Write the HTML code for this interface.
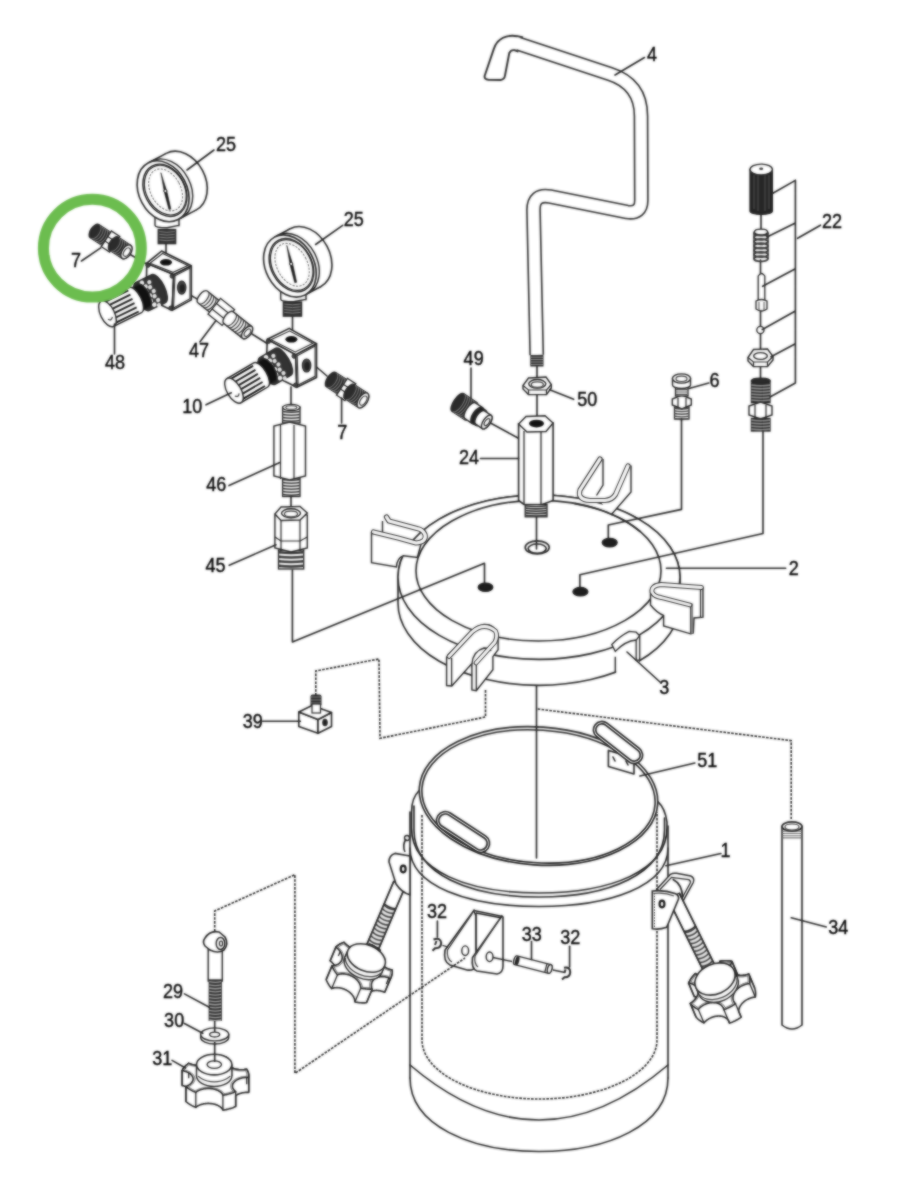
<!DOCTYPE html>
<html><head><meta charset="utf-8"><style>
html,body{margin:0;padding:0;background:#fff;width:916px;height:1201px;overflow:hidden}
svg{display:block}
#w{position:relative;width:916px;height:1201px}
#b{position:absolute;left:0;top:0;filter:blur(0.8px);opacity:0.72}
text{font-family:"Liberation Sans",sans-serif;font-size:19.4px;fill:#000;stroke:#000;stroke-width:0.4px;opacity:0.99}
.l{stroke:#222;stroke-width:1.6;fill:none;stroke-linejoin:round;stroke-linecap:round}
.f{stroke:#222;stroke-width:1.6;fill:#fff;stroke-linejoin:round}
.d{stroke:#1a1a1a;stroke-width:1.6;fill:none;stroke-dasharray:2.6 1.3}
.t{stroke:#222;stroke-width:1.3;fill:none}
.k{fill:#1e1e1e;stroke:#1e1e1e;stroke-width:1.2}
.g{fill:#666;stroke:#222;stroke-width:1.2}
</style></head><body><div id="w">
<svg width="916" height="1201" viewBox="0 0 916 1201">
<g id="D">
<rect width="916" height="1201" fill="#fff"/>

<g class="l">
<path d="M761 214 L761 233 M760.5 260 L760.5 273 M760.5 311 L760.5 326 M760.5 334 L760.5 350 M760.5 366 L760.5 380"/>
<path d="M537 366 L537 378 M537 394 L537 416"/>
<path d="M486.8 421 L518 438"/>
<path d="M130.6 254.7 L150 266"/>
<path d="M185 292 L201.8 301.6"/>
<path d="M166 243.5 L166 262"/>
<path d="M292.5 316 L292.5 339"/>
<path d="M313 364 L327 376"/>
<path d="M291 387 L291 407"/>
<path d="M291 479 L291 506"/>
<path d="M252 334 L268 344"/>
<path d="M536.5 516 L536.5 548"/>
</g>
<path d="M523 37.45 Q506 32.5 497.5 42 Q495 45 494 48.4 L484.7 75.7 Q484 79.5 488.5 79.8 L500.5 80 Q504.5 79.5 505 75.5 L509.3 53 Q511 49.5 515 50.3 L518.4 51.55 Z" fill="#fff"/>
<path d="M523 37.45 Q506 32.5 497.5 42 Q495 45 494 48.4 L484.7 75.7 Q484 79.5 488.5 79.8 L500.5 80 Q504.5 79.5 505 75.5 L509.3 53 Q511 49.5 515 50.3 L518.4 51.55" fill="none" stroke="#2a2a2a" stroke-width="1.9" stroke-linejoin="round"/>
<path d="M518.5 43.8 L610 74 Q641 84 641 116 L641.3 200 Q641.5 214 627 212 L550 196.5 Q533.5 193.5 533.5 210 L536.7 355" fill="none" stroke="#2a2a2a" stroke-width="14.8" stroke-linejoin="round" stroke-linecap="butt"/>
<path d="M515.6 42.9 L518.5 43.8 L610 74 Q641 84 641 116 L641.3 200 Q641.5 214 627 212 L550 196.5 Q533.5 193.5 533.5 210 L536.7 355" fill="none" stroke="#fff" stroke-width="11.6" stroke-linejoin="round" stroke-linecap="butt"/>
<rect x="530.3" y="355" width="13.2" height="11.5" fill="#2a2a2a"/>
<path d="M531 357.2H543M531 359.6H543M531 362H543M531 364.4H543" stroke="#999" stroke-width="1" fill="none"/>
<g>
<path class="f" d="M398 577.2 A141 82.2 0 0 1 680 577.2 L680 603.2 A141 82.2 0 0 1 398 603.2 Z"/>
<ellipse class="f" cx="539" cy="577.2" rx="141" ry="82.2"/>
<ellipse class="l" cx="538.5" cy="570.7" rx="122.5" ry="70.3"/>
<ellipse class="f" cx="537.2" cy="547.4" rx="12" ry="6.5"/>
<ellipse class="l" cx="537.2" cy="548.6" rx="9" ry="4.6"/>
<ellipse class="k" cx="609.7" cy="542.6" rx="7.5" ry="4.3"/>
<ellipse class="k" cx="580.4" cy="591.7" rx="7.5" ry="4.3"/>
<ellipse class="k" cx="485.5" cy="587.3" rx="7.3" ry="4.2"/>
</g>
<path d="M603 459 L603 485 L596 496 L611 515 L631 492 L631 465 L616 494 Z" fill="#fff" stroke="none"/>
<path d="M603 459 L603 485 L596.5 495.5 M631 465.5 L631 492 L611 515" fill="none" stroke="#222" stroke-width="1.4"/>
<path d="M600 459 L580 490 Q577 499.5 590 500.5 L605 500.5 Q612 500 615.5 494.5 L628 466" fill="none" stroke="#222" stroke-width="5.2" stroke-linejoin="round" stroke-linecap="round"/>
<path d="M600 459 L580 490 Q577 499.5 590 500.5 L605 500.5 Q612 500 615.5 494.5 L628 466" fill="none" stroke="#fff" stroke-width="3.2" stroke-linejoin="round" stroke-linecap="round"/>
<path class="l" d="M575 503.6 A122.5 70.3 0 0 1 640 531.4"/>
<path d="M371.5 533 L371.5 562.6 L396.4 567 Q397 558 403.4 555.7 L417.4 557.4 L421 544 L398 537.5 Z" fill="#fff" stroke="#222" stroke-width="1.4"/>
<path d="M382.5 521 V535" stroke="#222" stroke-width="1.4"/>
<path d="M373.5 532 L398 538 L416 543 Q427 542 425 534.5 Q423 529.5 417 528.5 L389 521 L386.5 517" fill="none" stroke="#222" stroke-width="5.2" stroke-linejoin="round" stroke-linecap="round"/>
<path d="M373.5 532 L398 538 L416 543 Q427 542 425 534.5 Q423 529.5 417 528.5 L389 521 L386.5 517" fill="none" stroke="#fff" stroke-width="3.2" stroke-linejoin="round" stroke-linecap="round"/>
<path d="M650.5 590 Q652 583 661 583.1 L701.1 586.5 L703 588 L703 617.2 L694 618 L693.3 633 L690.7 633.8 L663.6 625.9 L663.6 615.4 Q657 613 650.5 605 Z" fill="#fff" stroke="#222" stroke-width="1.4"/>
<path d="M690.7 603.5 L690.7 633.8" stroke="#222" stroke-width="1.3"/>
<rect x="690.8" y="603.5" width="2.3" height="30" fill="#888"/>
<path d="M700.5 588.5 V617" stroke="#222" stroke-width="1.2"/>
<path d="M701.5 587.5 L661 584.5 Q651 585.5 652 592 Q654 596.5 661 597.5 L690 605" fill="none" stroke="#222" stroke-width="4.8" stroke-linejoin="round" stroke-linecap="round"/>
<path d="M701.5 587.5 L661 584.5 Q651 585.5 652 592 Q654 596.5 661 597.5 L690 605" fill="none" stroke="#fff" stroke-width="2.8" stroke-linejoin="round" stroke-linecap="round"/>
<path d="M446.6 657.6 L446.6 685.5 L451.8 686 L471 664.5 L471.9 664 L471.9 690 L476.3 690.7 L492.9 669.8 L492.9 656.7 L498.1 649.7 L498.1 634 Q494 624 484 624.5 Q474 626 470 634 L448 655 Z" fill="#fff" stroke="#222" stroke-width="1.4"/>
<path d="M451.6 658 V686 M476.3 664 V690.7" stroke="#222" stroke-width="1.3"/>
<path d="M471.9 664 Q473 651 484 648 Q490 648 491 651" fill="none" stroke="#222" stroke-width="1.3"/>
<path d="M449 656.5 L472 632 Q484 621.5 495.5 631 Q498 636 495 642 L476 663" fill="none" stroke="#222" stroke-width="4.8" stroke-linejoin="round" stroke-linecap="round"/>
<path d="M449 656.5 L472 632 Q484 621.5 495.5 631 Q498 636 495 642 L476 663" fill="none" stroke="#fff" stroke-width="2.8" stroke-linejoin="round" stroke-linecap="round"/>
<rect x="616.2" y="655.5" width="22.8" height="20" fill="#fff"/>
<path d="M615.3 656.7 L615.3 672.4" stroke="#222" stroke-width="1.4"/>
<path d="M611.8 644.5 Q620 636 629.3 631.4 L636.2 632.2 L639.7 635.7 L639.7 660.2 L636.2 660.2 L636.2 640 Q625 641 615.3 651.4 Z" fill="#fff" stroke="#222" stroke-width="1.3"/>
<path d="M636.2 640 L639.7 635.7" stroke="#222" stroke-width="1.2"/>
<path d="M518.6 424 L518.6 500.5 L524 504.5 L541 505 L553.1 500.5 L553.1 423 Z" fill="#fff" stroke="#222" stroke-width="1.6"/>
<path d="M524 431 L524 504 M541 432 L541 504.5" stroke="#222" stroke-width="1.3"/>
<polygon points="518.6,424 526,416.5 545,415.8 553.1,423 546,431.5 527,432" fill="#fff" stroke="#222" stroke-width="1.4"/>
<ellipse cx="536.5" cy="423.6" rx="7.5" ry="3.9" fill="#111"/>
<rect x="525.2" y="504.5" width="21.8" height="12.3" fill="#fff" stroke="#222" stroke-width="1.3"/>
<path d="M525.2 505.7 Q536.1 507.2 547 505.7 M525.2 508.1 Q536.1 509.6 547 508.1 M525.2 510.5 Q536.1 512 547 510.5 M525.2 512.9 Q536.1 514.4 547 512.9 M525.2 515.3 Q536.1 516.8 547 515.3 " stroke="#333" stroke-width="1.6" fill="none"/>
<polygon points="523,385.5 528.5,378 546,377 551.3,384.5 551.3,388 546.5,394.6 528.5,394.6 523,389" fill="#fff" stroke="#222" stroke-width="1.4"/>
<path d="M523 385.5 L528.5 390 L546.5 390 L551.3 384.5 M528.5 390 V394.6 M546.5 390 V394.6" stroke="#222" stroke-width="1.2" fill="none"/>
<ellipse cx="537.3" cy="383.8" rx="8.6" ry="4.3" fill="#fff" stroke="#222" stroke-width="1.4"/>
<ellipse cx="537.3" cy="384.6" rx="6" ry="2.8" fill="none" stroke="#444" stroke-width="1.2"/>
<g transform="translate(473.5 413) rotate(34)">
<path d="M-19 -10.5 L-3 -10.5 A4 10.5 0 0 1 -3 10.5 L-19 10.5 A4 10.5 0 0 1 -19 -10.5 Z" fill="#2b2b2b" stroke="#222" stroke-width="1.4" stroke-linejoin="round"/>
<path d="M-17.8 -10.5 A4 10.5 0 0 1 -17.8 10.5 M-15.4 -10.5 A4 10.5 0 0 1 -15.4 10.5 M-13 -10.5 A4 10.5 0 0 1 -13 10.5 M-10.6 -10.5 A4 10.5 0 0 1 -10.6 10.5 M-8.2 -10.5 A4 10.5 0 0 1 -8.2 10.5 M-5.8 -10.5 A4 10.5 0 0 1 -5.8 10.5 M-3.4 -10.5 A4 10.5 0 0 1 -3.4 10.5 " stroke="#777" stroke-width="1" fill="none"/>
<path d="M-4 -9.5 L5 -9.5 A4 9.5 0 0 1 5 9.5 L-4 9.5 A4 9.5 0 0 1 -4 -9.5 Z" fill="#fff" stroke="#222" stroke-width="1.4" stroke-linejoin="round"/>
<path d="M4 -9 L9 -9 A4 9 0 0 1 9 9 L4 9 A4 9 0 0 1 4 -9 Z" fill="#222" stroke="#222" stroke-width="1.4" stroke-linejoin="round"/>
<path d="M8 -8 L16 -8 A3.6 8 0 0 1 16 8 L8 8 A3.6 8 0 0 1 8 -8 Z" fill="#fff" stroke="#222" stroke-width="1.4" stroke-linejoin="round"/>
<ellipse cx="16" cy="0" rx="3.6" ry="8" fill="#fff" stroke="#222" stroke-width="1.4"/>
<ellipse cx="16.3" cy="0" rx="2" ry="4" fill="#fff" stroke="#333" stroke-width="1.2"/>
</g>
<rect x="674.5" y="407" width="14.5" height="12" fill="#fff" stroke="#222" stroke-width="1.3"/>
<path d="M674.5 408.3 Q681.8 409.8 689 408.3 M674.5 410.9 Q681.8 412.4 689 410.9 M674.5 413.5 Q681.8 415 689 413.5 M674.5 416.1 Q681.8 417.6 689 416.1 M674.5 418.7 Q681.8 420.2 689 418.7 " stroke="#444" stroke-width="1.4" fill="none"/>
<path d="M672.3 399 L672.3 405 L681.8 409 L691.3 405 L691.3 399 L681.8 395 Z" fill="#fff" stroke="#222" stroke-width="1.4"/>
<path d="M678 398 L678 408 M686 398 L686 408 " stroke="#222" stroke-width="1.2" fill="none"/>
<rect x="675.5" y="385" width="12.5" height="11" fill="#fff" stroke="#222" stroke-width="1.3"/>
<path d="M676 387.2H687.5M676 389.6H687.5M676 392H687.5M676 394.4H687.5" stroke="#555" stroke-width="1.1" fill="none"/>
<path d="M672.5 378.5 L672.5 385 A9 3.5 0 0 0 690.5 385 L690.5 378.5 Z" fill="#fff" stroke="#222" stroke-width="1.4"/>
<ellipse cx="681.5" cy="378.5" rx="9" ry="4.6" fill="#fff" stroke="#222" stroke-width="1.4"/>
<ellipse cx="681.5" cy="378.8" rx="5.5" ry="2.7" fill="none" stroke="#444" stroke-width="1.2"/>
<path d="M750 169.5 L750 211 A11.2 3.5 0 0 0 772.4 211 L772.4 169.5 Z" fill="#262626" stroke="#1a1a1a" stroke-width="1.2"/>
<path d="M754 175 V209 M758 175 V211 M765 175 V211 M769 175 V209" stroke="#555" stroke-width="1"/>
<ellipse cx="761.2" cy="169.5" rx="11.2" ry="5.4" fill="#fff" stroke="#222" stroke-width="1.4"/>
<ellipse cx="761.2" cy="168.8" rx="2" ry="1.2" fill="#333"/>
<path d="M754 233 A7 2.6 0 0 0 768 233 A7 2.6 0 0 0 754 233 M754 237.3 A7 2.6 0 0 0 768 237.3 A7 2.6 0 0 0 754 237.3 M754 241.6 A7 2.6 0 0 0 768 241.6 A7 2.6 0 0 0 754 241.6 M754 245.9 A7 2.6 0 0 0 768 245.9 A7 2.6 0 0 0 754 245.9 M754 250.2 A7 2.6 0 0 0 768 250.2 A7 2.6 0 0 0 754 250.2 M754 254.5 A7 2.6 0 0 0 768 254.5 A7 2.6 0 0 0 754 254.5 M754 258.8 A7 2.6 0 0 0 768 258.8 A7 2.6 0 0 0 754 258.8 " fill="none" stroke="#333" stroke-width="1.9"/>
<path d="M754 233 V259 M768 233 V259" stroke="#333" stroke-width="1.4"/>
<ellipse cx="761" cy="232" rx="6.5" ry="2.8" fill="#fff" stroke="#222" stroke-width="1.3"/>
<path d="M758.2 300 L758.2 276 Q761.5 271 764.8 276 L764.8 300 Z" fill="#fff" stroke="#222" stroke-width="1.3"/>
<path d="M756 301 L756 309 Q761.5 313 767 309 L767 301 Q761.5 298 756 301 Z" fill="#fff" stroke="#222" stroke-width="1.3"/>
<path d="M759 302 V310 M764 302 V310" stroke="#444" stroke-width="1"/>
<circle cx="760.4" cy="330" r="3.6" fill="#fff" stroke="#222" stroke-width="1.3"/>
<polygon points="748,357.5 753.5,349.5 767.5,349 773,356.5 773,360 767.5,366.6 753.5,366.6 748,361" fill="#fff" stroke="#222" stroke-width="1.4"/>
<path d="M748 357.5 L753.5 362 L767.5 362 L773 356.5 M753.5 362 V366.6 M767.5 362 V366.6" stroke="#222" stroke-width="1.2" fill="none"/>
<ellipse cx="760.5" cy="356" rx="6.8" ry="3.4" fill="#fff" stroke="#222" stroke-width="1.4"/>
<rect x="751.4" y="380.5" width="18.6" height="22.1" fill="#2b2b2b" stroke="#222" stroke-width="1.3"/>
<path d="M751.4 382 Q760.7 383.5 770 382 M751.4 385 Q760.7 386.5 770 385 M751.4 388 Q760.7 389.5 770 388 M751.4 391 Q760.7 392.5 770 391 M751.4 394 Q760.7 395.5 770 394 M751.4 397 Q760.7 398.5 770 397 M751.4 400 Q760.7 401.5 770 400 " stroke="#999" stroke-width="1.4" fill="none"/>
<ellipse cx="760.7" cy="381" rx="9.3" ry="2.8" fill="#2b2b2b" stroke="#222" stroke-width="1.2"/>
<path d="M749 406 L749 415 L760.5 419 L772 415 L772 406 L760.5 402 Z" fill="#fff" stroke="#222" stroke-width="1.4"/>
<path d="M755 405 L755 418 M766 405 L766 418 " stroke="#222" stroke-width="1.2" fill="none"/>
<rect x="751.4" y="418.5" width="18.6" height="12.5" fill="#2b2b2b" stroke="#222" stroke-width="1.3"/>
<path d="M751.4 420 Q760.7 421.5 770 420 M751.4 423 Q760.7 424.5 770 423 M751.4 426 Q760.7 427.5 770 426 M751.4 429 Q760.7 430.5 770 429 " stroke="#999" stroke-width="1.4" fill="none"/>
<path d="M782 826.5 L782 1025 Q792 1033 802 1025 L802 826.5 Z" fill="#fff" stroke="#222" stroke-width="1.6"/>
<path d="M782.5 829.1H801.5M782.5 831.3H801.5M782.5 833.5H801.5M782.5 835.7H801.5M782.5 837.9H801.5" stroke="#777" stroke-width="1.1" fill="none"/>
<ellipse cx="792" cy="826.5" rx="10" ry="4.6" fill="#fff" stroke="#222" stroke-width="1.6"/>
<ellipse cx="792" cy="827" rx="7" ry="3" fill="none" stroke="#444" stroke-width="1.2"/>
<path d="M155 215 L155 225.3 Q155 227.8 167 227.8 L179 225.3 Q179 227.8 179 215 Z" fill="#fff" stroke="#222" stroke-width="1.4"/>
<rect x="158.2" y="229.5" width="17.5" height="14.2" fill="#333" stroke="#222" stroke-width="1.2"/>
<path d="M159.2 231.5 Q166.9 233.1 174.7 231.5 M159.2 234.3 Q166.9 235.9 174.7 234.3 M159.2 237.1 Q166.9 238.7 174.7 237.1 M159.2 239.9 Q166.9 241.5 174.7 239.9 " stroke="#888" stroke-width="1" fill="none"/>
<ellipse cx="181.3" cy="181.6" rx="24" ry="32" transform="rotate(-28 181.3 181.6)" fill="#fff" stroke="#222" stroke-width="1.6" />
<path d="M178.1 219.6 L196.3 209.9 L166.3 153.4 L148.1 163 Z" fill="#fff" stroke="none"/>
<path d="M178.1 219.6 L196.3 209.9 M148.1 163 L166.3 153.4" stroke="#222" stroke-width="1.6"/>
<ellipse cx="166.7" cy="189.4" rx="24" ry="32" transform="rotate(-28 166.7 189.4)" fill="#fff" stroke="#222" stroke-width="1.4" />
<ellipse cx="163.1" cy="191.3" rx="24" ry="32" transform="rotate(-28 163.1 191.3)" fill="#fff" stroke="#222" stroke-width="1.6" />
<ellipse cx="164.9" cy="190.3" rx="20.2" ry="27.5" transform="rotate(-28 164.9 190.3)" fill="#fff" stroke="#222" stroke-width="1.4" />
<ellipse cx="165.3" cy="190.1" rx="19.2" ry="26.2" transform="rotate(-28 165.3 190.1)" fill="none" stroke="#222" stroke-width="1.2" />
<ellipse cx="165.6" cy="189.9" rx="15.1" ry="22.4" transform="rotate(-28 165.6 189.9)" fill="none" stroke="#222" stroke-width="1.1" stroke-dasharray="2.2 1.3" style="stroke:#666"/>
<path d="M160.9 172.7 L164.6 193.1 L169 209.5 L170.8 209.1 L167.1 192.5 Z" fill="#111" stroke="#111" stroke-width="0.6" stroke-linejoin="round"/>
<circle cx="165.4" cy="191" r="1.6" fill="#fff" stroke="#111" stroke-width="1"/>
<path d="M280.7 288 L280.7 299.3 Q280.7 301.8 293.4 301.8 L306 299.3 Q306 301.8 306 288 Z" fill="#fff" stroke="#222" stroke-width="1.4"/>
<rect x="283.3" y="302" width="18.3" height="14.2" fill="#333" stroke="#222" stroke-width="1.2"/>
<path d="M284.3 304 Q292.5 305.6 300.6 304 M284.3 306.8 Q292.5 308.4 300.6 306.8 M284.3 309.6 Q292.5 311.2 300.6 309.6 M284.3 312.4 Q292.5 314 300.6 312.4 " stroke="#888" stroke-width="1" fill="none"/>
<ellipse cx="305.6" cy="257.6" rx="24.2" ry="32.7" transform="rotate(-28 305.6 257.6)" fill="#fff" stroke="#222" stroke-width="1.6" />
<path d="M305.2 294.9 L320.9 286.5 L290.2 228.8 L274.5 237.1 Z" fill="#fff" stroke="none"/>
<path d="M305.2 294.9 L320.9 286.5 M274.5 237.1 L290.2 228.8" stroke="#222" stroke-width="1.6"/>
<ellipse cx="293" cy="264.3" rx="24.2" ry="32.7" transform="rotate(-28 293 264.3)" fill="#fff" stroke="#222" stroke-width="1.4" />
<ellipse cx="289.9" cy="266" rx="24.2" ry="32.7" transform="rotate(-28 289.9 266)" fill="#fff" stroke="#222" stroke-width="1.6" />
<ellipse cx="291.4" cy="265.2" rx="20.3" ry="28.1" transform="rotate(-28 291.4 265.2)" fill="#fff" stroke="#222" stroke-width="1.4" />
<ellipse cx="291.7" cy="265" rx="19.4" ry="26.8" transform="rotate(-28 291.7 265)" fill="none" stroke="#222" stroke-width="1.2" />
<ellipse cx="292.1" cy="264.8" rx="15.2" ry="22.9" transform="rotate(-28 292.1 264.8)" fill="none" stroke="#222" stroke-width="1.1" stroke-dasharray="2.2 1.3" style="stroke:#666"/>
<path d="M286.8 245.4 L290.4 266.1 L294.8 282.7 L296.6 282.3 L293 265.5 Z" fill="#111" stroke="#111" stroke-width="0.6" stroke-linejoin="round"/>
<circle cx="291.2" cy="263.9" r="1.6" fill="#fff" stroke="#111" stroke-width="1"/>
<polygon class="f" points="146.8,263.2 173.8,274.5 172.1,310.3 146,298" />
<polygon class="f" points="173.8,274.5 191.3,265.8 191.3,299.9 172.1,310.3" />
<polygon class="f" points="146.8,263.2 161.6,251 191.3,265.8 173.8,274.5" />
<ellipse cx="166" cy="262.3" rx="6" ry="3.3" fill="#111"/>
<ellipse cx="181.7" cy="287.6" rx="4.2" ry="6.5" fill="#444" stroke="#222" stroke-width="1.2"/>
<ellipse cx="182.2" cy="288.1" rx="2.5" ry="3.9" fill="#222"/>
<polygon points="175,275.8 190,268 190,298.7 173.5,308" fill="none" stroke="#333" stroke-width="1.1"/>
<polygon points="150,263.3 162.6,253.5 187.9,265.4 173,272.3" fill="none" stroke="#333" stroke-width="1.1"/>
<circle cx="148" cy="265.2" r="2.1" fill="#444" stroke="#222" stroke-width="1"/>
<circle cx="172.2" cy="276.1" r="2.1" fill="#444" stroke="#222" stroke-width="1"/>
<circle cx="170.9" cy="308.1" r="2.1" fill="#444" stroke="#222" stroke-width="1"/>
<g transform="translate(107.5 313.8) rotate(-26.2)">
<path d="M39 -15.5 L57 -15.5 A6 15.5 0 0 1 57 15.5 L39 15.5 A6 15.5 0 0 1 39 -15.5 Z" fill="#333" stroke="#222" stroke-width="1.4" stroke-linejoin="round"/>
<circle cx="44.5" cy="-12.5" r="2.3" fill="#f4f4f4" stroke="none"/>
<circle cx="51.5" cy="-10" r="2.1" fill="#e8e8e8" stroke="none"/>
<circle cx="46" cy="-7.5" r="2.3" fill="#f4f4f4" stroke="none"/>
<circle cx="50" cy="-5" r="2.1" fill="#e8e8e8" stroke="none"/>
<circle cx="44.5" cy="-2.5" r="2.3" fill="#f4f4f4" stroke="none"/>
<circle cx="51.5" cy="0" r="2.1" fill="#e8e8e8" stroke="none"/>
<circle cx="46" cy="2.5" r="2.3" fill="#f4f4f4" stroke="none"/>
<circle cx="50" cy="5" r="2.1" fill="#e8e8e8" stroke="none"/>
<circle cx="44.5" cy="7.5" r="2.3" fill="#f4f4f4" stroke="none"/>
<circle cx="51.5" cy="10" r="2.1" fill="#e8e8e8" stroke="none"/>
<circle cx="46" cy="12.5" r="2.3" fill="#f4f4f4" stroke="none"/>
<circle cx="50" cy="15" r="2.1" fill="#e8e8e8" stroke="none"/>
<path d="M29 -12.5 L41 -12.5 A5 12.5 0 0 1 41 12.5 L29 12.5 A5 12.5 0 0 1 29 -12.5 Z" fill="#111" stroke="#222" stroke-width="1.4" stroke-linejoin="round"/>
<path d="M0 -14 L31 -14 A6 14 0 0 1 31 14 L0 14 A6 14 0 0 1 0 -14 Z" fill="#fff" stroke="#222" stroke-width="1.4" stroke-linejoin="round"/>
<path d="M3 -11.7H29M3 -7H29M3 -2.3H29M3 2.3H29M3 7H29M3 11.7H29" stroke="#111" stroke-width="1.9" fill="none"/>
<ellipse cx="0" cy="0" rx="7" ry="14" fill="#fff" stroke="#222" stroke-width="1.4"/>
<path d="M-2 5 q2.5 3.5 5 0" stroke="#333" stroke-width="1.2" fill="none"/>
</g>
<polygon class="f" points="267.3,339.3 295.7,354.6 296.8,387.3 266,372" />
<polygon class="f" points="295.7,354.6 316.5,343.7 316.5,377.5 296.8,387.3" />
<polygon class="f" points="267.3,339.3 289.2,328.4 316.5,343.7 295.7,354.6" />
<ellipse cx="291.4" cy="339.3" rx="6" ry="3.3" fill="#111"/>
<ellipse cx="306.6" cy="365.5" rx="4.2" ry="6.5" fill="#444" stroke="#222" stroke-width="1.2"/>
<ellipse cx="307.1" cy="366" rx="2.5" ry="3.9" fill="#222"/>
<polygon points="297.2,355.7 315.1,345.9 315.1,376.3 298.1,385.1" fill="none" stroke="#333" stroke-width="1.1"/>
<polygon points="271,339.7 289.6,331 312.9,343.3 295.2,352" fill="none" stroke="#333" stroke-width="1.1"/>
<circle cx="268.5" cy="341.3" r="2.1" fill="#444" stroke="#222" stroke-width="1"/>
<circle cx="294.1" cy="356.2" r="2.1" fill="#444" stroke="#222" stroke-width="1"/>
<circle cx="295.6" cy="385.1" r="2.1" fill="#444" stroke="#222" stroke-width="1"/>
<g transform="translate(234 390.6) rotate(-30.4)">
<path d="M39 -15.5 L57 -15.5 A6 15.5 0 0 1 57 15.5 L39 15.5 A6 15.5 0 0 1 39 -15.5 Z" fill="#333" stroke="#222" stroke-width="1.4" stroke-linejoin="round"/>
<circle cx="44.5" cy="-12.5" r="2.3" fill="#f4f4f4" stroke="none"/>
<circle cx="51.5" cy="-10" r="2.1" fill="#e8e8e8" stroke="none"/>
<circle cx="46" cy="-7.5" r="2.3" fill="#f4f4f4" stroke="none"/>
<circle cx="50" cy="-5" r="2.1" fill="#e8e8e8" stroke="none"/>
<circle cx="44.5" cy="-2.5" r="2.3" fill="#f4f4f4" stroke="none"/>
<circle cx="51.5" cy="0" r="2.1" fill="#e8e8e8" stroke="none"/>
<circle cx="46" cy="2.5" r="2.3" fill="#f4f4f4" stroke="none"/>
<circle cx="50" cy="5" r="2.1" fill="#e8e8e8" stroke="none"/>
<circle cx="44.5" cy="7.5" r="2.3" fill="#f4f4f4" stroke="none"/>
<circle cx="51.5" cy="10" r="2.1" fill="#e8e8e8" stroke="none"/>
<circle cx="46" cy="12.5" r="2.3" fill="#f4f4f4" stroke="none"/>
<circle cx="50" cy="15" r="2.1" fill="#e8e8e8" stroke="none"/>
<path d="M29 -12.5 L41 -12.5 A5 12.5 0 0 1 41 12.5 L29 12.5 A5 12.5 0 0 1 29 -12.5 Z" fill="#111" stroke="#222" stroke-width="1.4" stroke-linejoin="round"/>
<path d="M0 -14 L31 -14 A6 14 0 0 1 31 14 L0 14 A6 14 0 0 1 0 -14 Z" fill="#fff" stroke="#222" stroke-width="1.4" stroke-linejoin="round"/>
<path d="M3 -11.7H29M3 -7H29M3 -2.3H29M3 2.3H29M3 7H29M3 11.7H29" stroke="#111" stroke-width="1.9" fill="none"/>
<ellipse cx="0" cy="0" rx="7" ry="14" fill="#fff" stroke="#222" stroke-width="1.4"/>
<path d="M-2 5 q2.5 3.5 5 0" stroke="#333" stroke-width="1.2" fill="none"/>
</g>
<g transform="translate(110.5 241.5) rotate(33)">
<path d="M-19 -7.8 L-4 -7.8 A4 7.8 0 0 1 -4 7.8 L-19 7.8 A4 7.8 0 0 1 -19 -7.8 Z" fill="#2b2b2b" stroke="#222" stroke-width="1.4" stroke-linejoin="round"/>
<path d="M-17.7 -7.8 A4 7.8 0 0 1 -17.7 7.8 M-15.1 -7.8 A4 7.8 0 0 1 -15.1 7.8 M-12.5 -7.8 A4 7.8 0 0 1 -12.5 7.8 M-9.9 -7.8 A4 7.8 0 0 1 -9.9 7.8 M-7.3 -7.8 A4 7.8 0 0 1 -7.3 7.8 M-4.7 -7.8 A4 7.8 0 0 1 -4.7 7.8 " stroke="#777" stroke-width="1" fill="none"/>
<path d="M-5 -9.3 L5 -9.3 L5 9.3 L-5 9.3 Z" fill="#fff" stroke="#222" stroke-width="1.3"/>
<path d="M-5 -2.6 H5 M-5 2.6 H5" stroke="#222" stroke-width="1.2"/>
<path d="M4 -7.8 L19 -7.8 A4 7.8 0 0 1 19 7.8 L4 7.8 A4 7.8 0 0 1 4 -7.8 Z" fill="#2b2b2b" stroke="#222" stroke-width="1.4" stroke-linejoin="round"/>
<path d="M5.3 -7.8 A4 7.8 0 0 1 5.3 7.8 M7.9 -7.8 A4 7.8 0 0 1 7.9 7.8 M10.5 -7.8 A4 7.8 0 0 1 10.5 7.8 M13.1 -7.8 A4 7.8 0 0 1 13.1 7.8 M15.7 -7.8 A4 7.8 0 0 1 15.7 7.8 M18.3 -7.8 A4 7.8 0 0 1 18.3 7.8 " stroke="#777" stroke-width="1" fill="none"/>
<ellipse cx="19" cy="0" rx="4.5" ry="7.8" fill="#fff" stroke="#222" stroke-width="1.4"/>
<ellipse cx="19.5" cy="0" rx="2.8" ry="4.7" fill="#fff" stroke="#444" stroke-width="1.2"/>
</g>
<g transform="translate(347 390) rotate(33)">
<path d="M-19 -8.5 L-5 -8.5 A4 8.5 0 0 1 -5 8.5 L-19 8.5 A4 8.5 0 0 1 -19 -8.5 Z" fill="#2b2b2b" stroke="#222" stroke-width="1.4" stroke-linejoin="round"/>
<path d="M-17.7 -8.5 A4 8.5 0 0 1 -17.7 8.5 M-15.1 -8.5 A4 8.5 0 0 1 -15.1 8.5 M-12.5 -8.5 A4 8.5 0 0 1 -12.5 8.5 M-9.9 -8.5 A4 8.5 0 0 1 -9.9 8.5 M-7.3 -8.5 A4 8.5 0 0 1 -7.3 8.5 " stroke="#777" stroke-width="1" fill="none"/>
<path d="M-6 -10 L4 -10 L4 10 L-6 10 Z" fill="#fff" stroke="#222" stroke-width="1.3"/>
<path d="M-6 -2.8 H4 M-6 2.8 H4" stroke="#222" stroke-width="1.2"/>
<path d="M3 -8.5 L19 -8.5 A4 8.5 0 0 1 19 8.5 L3 8.5 A4 8.5 0 0 1 3 -8.5 Z" fill="#2b2b2b" stroke="#222" stroke-width="1.4" stroke-linejoin="round"/>
<path d="M4.3 -8.5 A4 8.5 0 0 1 4.3 8.5 M6.9 -8.5 A4 8.5 0 0 1 6.9 8.5 M9.5 -8.5 A4 8.5 0 0 1 9.5 8.5 M12.1 -8.5 A4 8.5 0 0 1 12.1 8.5 M14.7 -8.5 A4 8.5 0 0 1 14.7 8.5 M17.3 -8.5 A4 8.5 0 0 1 17.3 8.5 " stroke="#777" stroke-width="1" fill="none"/>
<ellipse cx="19" cy="0" rx="4.5" ry="8.5" fill="#fff" stroke="#222" stroke-width="1.4"/>
<ellipse cx="19.5" cy="0" rx="2.8" ry="5.1" fill="#fff" stroke="#444" stroke-width="1.2"/>
</g>
<g transform="translate(226 315.6) rotate(38.5)">
<path d="M-30 -7.5 L-14 -7.5 A3.5 7.5 0 0 1 -14 7.5 L-30 7.5 A3.5 7.5 0 0 1 -30 -7.5 Z" fill="#fff" stroke="#222" stroke-width="1.4" stroke-linejoin="round"/>
<path d="M-28.5 -7.5 A3.5 7.5 0 0 1 -28.5 7.5 M-25.5 -7.5 A3.5 7.5 0 0 1 -25.5 7.5 M-22.5 -7.5 A3.5 7.5 0 0 1 -22.5 7.5 M-19.5 -7.5 A3.5 7.5 0 0 1 -19.5 7.5 M-16.5 -7.5 A3.5 7.5 0 0 1 -16.5 7.5 " stroke="#333" stroke-width="1.2" fill="none"/>
<path d="M-15 -10 L3 -10 L3 10 L-15 10 Z" fill="#fff" stroke="#222" stroke-width="1.3"/>
<path d="M-15 -3.5 H3 M-15 3.5 H3" stroke="#222" stroke-width="1.2"/>
<path d="M3 -7.5 L27 -7.5 A3.5 7.5 0 0 1 27 7.5 L3 7.5 A3.5 7.5 0 0 1 3 -7.5 Z" fill="#fff" stroke="#222" stroke-width="1.4" stroke-linejoin="round"/>
<path d="M6.5 -7.5 A3.5 7.5 0 0 1 6.5 7.5 M9.5 -7.5 A3.5 7.5 0 0 1 9.5 7.5 M12.5 -7.5 A3.5 7.5 0 0 1 12.5 7.5 M15.5 -7.5 A3.5 7.5 0 0 1 15.5 7.5 M18.5 -7.5 A3.5 7.5 0 0 1 18.5 7.5 M21.5 -7.5 A3.5 7.5 0 0 1 21.5 7.5 M24.5 -7.5 A3.5 7.5 0 0 1 24.5 7.5 " stroke="#333" stroke-width="1.2" fill="none"/>
<ellipse cx="27" cy="0" rx="4" ry="7.5" fill="#fff" stroke="#222" stroke-width="1.4"/>
<ellipse cx="27.5" cy="0" rx="2.4" ry="4.3" fill="#fff" stroke="#444" stroke-width="1.2"/>
</g>
<rect x="282.6" y="407" width="17.4" height="16" fill="#fff" stroke="#222" stroke-width="1.3"/>
<path d="M282.6 408.5 Q291.3 410 300 408.5 M282.6 411.5 Q291.3 413 300 411.5 M282.6 414.5 Q291.3 416 300 414.5 M282.6 417.5 Q291.3 419 300 417.5 M282.6 420.5 Q291.3 422 300 420.5 " stroke="#333" stroke-width="1.7" fill="none"/>
<ellipse cx="291.3" cy="407.5" rx="8.7" ry="3.2" fill="#fff" stroke="#222" stroke-width="1.3"/>
<ellipse cx="291.3" cy="407.5" rx="5.5" ry="1.8" fill="none" stroke="#444" stroke-width="1.1"/>
<rect x="282.6" y="478" width="17.4" height="18.5" fill="#fff" stroke="#222" stroke-width="1.3"/>
<path d="M282.6 479.5 Q291.3 481 300 479.5 M282.6 482.5 Q291.3 484 300 482.5 M282.6 485.5 Q291.3 487 300 485.5 M282.6 488.5 Q291.3 490 300 488.5 M282.6 491.5 Q291.3 493 300 491.5 M282.6 494.5 Q291.3 496 300 494.5 " stroke="#333" stroke-width="1.7" fill="none"/>
<path d="M273.9 426 L273.9 476 L289.7 480 L305.5 476 L305.5 426 L289.7 422 Z" fill="#fff" stroke="#222" stroke-width="1.4"/>
<path d="M280.5 425 L280.5 479 M294 425 L294 479 " stroke="#222" stroke-width="1.2" fill="none"/>
<rect x="278.5" y="550" width="25.2" height="19" fill="#fff" stroke="#222" stroke-width="1.3"/>
<path d="M278.5 552.2 Q291.1 553.8 303.7 552.2 M278.5 556.8 Q291.1 558.2 303.7 556.8 M278.5 561.2 Q291.1 562.8 303.7 561.2 M278.5 565.8 Q291.1 567.2 303.7 565.8 " stroke="#333" stroke-width="2.6" fill="none"/>
<path d="M274.9 515 L274.9 548 L291.1 552 L307.3 548 L307.3 515 L291.1 511 Z" fill="#fff" stroke="#222" stroke-width="1.4"/>
<path d="M281 514 L281 551 M300 514 L300 551 " stroke="#222" stroke-width="1.2" fill="none"/>
<path d="M274.9 537 L281 541 L300 541 L307.3 537" stroke="#222" stroke-width="1.2" fill="none"/>
<polygon points="274.9,514 281,507 300,506.4 307.3,513 300,520 281,520.5" fill="#fff" stroke="#222" stroke-width="1.4"/>
<ellipse cx="291" cy="513.3" rx="9.5" ry="4.5" fill="#fff" stroke="#222" stroke-width="1.4"/>
<ellipse cx="291" cy="514" rx="6.5" ry="2.8" fill="none" stroke="#444" stroke-width="1.2"/>
<rect x="310.5" y="694.5" width="11" height="12" rx="2" fill="#2a2a2a"/>
<path d="M311 697 H321 M311 700 H321 M311 703 H321" stroke="#888" stroke-width="1"/>
<polygon class="f" points="298.8,712 318,719.5 318,733.3 298.8,726.5" />
<polygon class="f" points="318,719.5 331.5,712.5 331.5,726.5 318,733.3" />
<polygon class="f" points="298.8,712 312,705.5 331.5,712.5 318,719.5" />
<rect x="312" y="704" width="8.5" height="9" fill="#fff" stroke="#222" stroke-width="1.2"/>
<ellipse cx="325" cy="722.5" rx="2.8" ry="3.8" fill="#222"/>
<g>
<path fill="#fff" d="M410 812 L418 795 A119 68 0 0 1 656 795 L668 828 L668 1078 C668 1125 608 1151.5 539 1151.5 C470 1151.5 410 1125 410 1078 Z"/>
<path class="l" d="M410 812 L410 1078 M668 826 L668 1078"/>
<path class="l" d="M410 1078 C410 1125 470 1151.5 539 1151.5 C608 1151.5 668 1125 668 1078"/>
<path class="l" d="M410 1065 Q539 1175 668 1065"/>
<path class="d" d="M422 815 L422 1040 A117.5 59 0 0 0 657 1040 L657 812"/>
<ellipse class="l" cx="538.5" cy="796" rx="119.5" ry="69" transform="rotate(4 538.5 796)" />
<ellipse class="l" cx="538.5" cy="796.4" rx="116.8" ry="66.3" transform="rotate(4 538.5 796.4)" />
<path class="l" d="M419.2 790.5 Q411.5 798 411.5 812 L411.5 828 C411.5 871 468 893 539 893 C610 893 667 871 667 828 L667 822 Q665 808 657.8 801.6"/>
<path class="l" d="M414 806 L414 830 C414 874 469 897 539 897 C609 897 664.5 874 664.5 830 L664.5 818"/>
<path class="l" d="M410 848 C410 886 468 906.5 539 906.5 C610 906.5 668 886 668 848"/>
<g transform="translate(463 832) rotate(33)"><rect class="f" x="-30" y="-9" width="60" height="18" rx="9"/><rect class="l" x="-27.5" y="-6.5" width="55" height="13" rx="6.5"/></g>
<path class="f" d="M608.4 750.4 L634 758 L634 774 L608.4 766.5 Z"/>
<g transform="translate(618 742.5) rotate(38)"><rect class="f" x="-29" y="-8.5" width="58" height="17" rx="8.5"/><rect class="l" x="-26.5" y="-6" width="53" height="12" rx="6"/></g>
<path class="l" d="M613 757 l2 4 M626 761 l2 4"/>
</g>
<path d="M185.6 1065.9 L185.2 1066.3 L184.8 1066.7 L184.4 1067.1 L184 1067.6 L183.7 1068 L183.3 1068.5 L183 1068.9 L182.7 1069.4 L182.5 1069.8 L182.2 1070.3 L182.1 1070.6 L182.1 1085.6 L182.5 1085.7 L182.9 1085.7 L183.4 1085.8 L183.9 1085.9 L184.3 1086.1 L184.7 1086.2 L185.2 1086.3 L185.6 1086.5 L185.9 1086.5 L185.9 1101.4 L186 1101.6 L186.5 1102 L187 1102.4 L187.4 1102.7 L187.9 1103.1 L188.5 1103.5 L189 1103.9 L189.6 1104.2 L190.1 1104.6 L190.7 1104.9 L191.3 1105.3 L191.9 1105.6 L192.5 1105.9 L193.2 1106.2 L193.8 1106.5 L194.5 1106.8 L195.2 1107.1 L195.8 1107.4 L195.9 1107.3 L196.1 1107.1 L196.4 1106.8 L196.7 1106.6 L197 1106.4 L197.4 1106.2 L197.7 1106 L198.1 1105.8 L198.4 1105.6 L198.8 1105.4 L199.2 1105.2 L199.6 1105.1 L200 1104.9 L200.4 1104.7 L200.8 1104.6 L201.3 1104.5 L201.7 1104.3 L202.1 1104.2 L202.6 1104.1 L203 1104 L203.5 1103.9 L204 1103.8 L204.4 1103.7 L204.9 1103.7 L205.4 1103.6 L205.9 1103.6 L206.4 1103.5 L206.9 1103.5 L207.3 1103.5 L207.8 1103.4 L208.3 1103.4 L208.8 1103.4 L209.3 1103.5 L209.8 1103.5 L210.3 1103.5 L210.8 1103.6 L211.3 1103.6 L211.7 1103.7 L212.2 1103.7 L212.7 1103.8 L213.1 1103.9 L213.6 1104 L214.1 1104.1 L214.5 1104.2 L215 1104.3 L215.4 1104.5 L215.8 1104.6 L216.2 1104.7 L216.7 1104.9 L217.1 1105.1 L217.5 1105.2 L217.8 1105.4 L218.2 1105.6 L218.6 1105.8 L218.9 1106 L219.3 1106.2 L219.6 1106.4 L219.9 1106.6 L220.2 1106.8 L220.5 1107.1 L220.8 1107.3 L221.1 1107.5 L221.3 1107.8 L221.6 1108 L221.8 1108.3 L222 1108.5 L222.2 1108.8 L222.4 1109.1 L222.5 1109.3 L222.7 1109.6 L222.8 1109.9 L222.9 1110.1 L223 1110.1 L223.8 1110 L224.6 1109.9 L225.4 1109.7 L226.2 1109.6 L227 1109.4 L227.8 1109.2 L228.5 1109 L229.3 1108.8 L230 1108.6 L230.8 1108.4 L231.5 1108.2 L232.2 1107.9 L232.9 1107.7 L233.6 1107.4 L234.3 1107.1 L235 1106.8 L235.7 1106.5 L235.7 1106.5 L235.7 1095.6 L235.8 1095.6 L236.1 1095.3 L236.5 1095.1 L236.8 1094.9 L237.2 1094.7 L237.5 1094.5 L237.9 1094.3 L238.3 1094.2 L238.7 1094 L239.1 1093.8 L239.5 1093.7 L239.9 1093.5 L240.3 1093.4 L240.8 1093.3 L241.2 1093.2 L241.7 1093 L242.1 1092.9 L242.6 1092.8 L243.1 1092.7 L243.5 1092.7 L244 1092.6 L244.5 1092.5 L245 1092.5 L245.5 1092.4 L245.9 1092.4 L246.4 1092.4 L246.9 1092.4 L247.4 1092.4 L247.9 1092.4 L248.4 1092.4 L248.7 1092.4 L248.7 1092 L248.7 1091.5 L248.8 1091 L248.8 1076 L248.7 1075.5 L248.7 1075 L248.7 1074.5 L248.6 1074.1 L248.5 1073.6 L248.4 1073.1 L248.2 1072.6 L248.1 1072.2 L247.9 1071.7 L247.7 1071.2 L247.5 1070.7 L247.3 1070.3 L247 1069.8 L246.8 1069.4 L246.7 1069.2 L246.6 1069.2 L246.2 1069.3 L245.7 1069.4 L245.2 1069.5 L244.8 1069.6 L244.3 1069.6 L243.8 1069.7 L243.3 1069.7 L242.8 1069.8 L242.3 1069.8 L241.9 1069.8 L241.4 1069.8 L240.9 1069.8 L240.4 1069.8 L239.9 1069.8 L239.4 1069.7 L238.9 1069.7 L238.4 1069.6 L238 1069.6 L237.5 1069.5 L237 1069.4 L236.5 1069.3 L236.1 1069.2 L235.6 1069.1 L235.2 1069 L234.7 1068.9 L234.3 1068.8 L233.9 1068.6 L233.4 1068.5 L233 1068.3 L232.6 1068.2 L232.2 1068 L231.8 1067.8 L231.5 1067.6 L231.1 1067.4 L230.8 1067.2 L230.4 1067 L230.1 1066.8 L229.8 1066.6 L229.5 1066.4 L229.2 1066.2 L228.9 1065.9 L228.6 1065.7 L228.4 1065.4 L228.1 1065.2 L227.9 1064.9 L227.7 1064.7 L227.5 1064.5 L227.5 1057.7 L227 1057.6 L226.2 1057.4 L225.4 1057.3 L224.6 1057.1 L223.8 1057 L223 1056.9 L222.2 1056.8 L221.4 1056.7 L220.6 1056.6 L219.7 1056.5 L218.9 1056.4 L218.1 1056.4 L217.3 1056.3 L216.4 1056.3 L215.6 1056.3 L214.8 1056.3 L213.9 1056.3 L213.5 1056.3 L213.5 1057.1 L213.5 1057.3 L213.5 1057.6 L213.4 1057.8 L213.3 1058.1 L213.2 1058.4 L213.1 1058.7 L213 1059 L212.9 1059.2 L212.7 1059.5 L212.6 1059.8 L212.4 1060 L212.2 1060.3 L212 1060.6 L211.8 1060.8 L211.5 1061.1 L211.3 1061.3 L211 1061.5 L210.7 1061.8 L210.4 1062 L210.1 1062.2 L209.8 1062.4 L209.5 1062.7 L209.1 1062.9 L208.8 1063.1 L208.4 1063.3 L208 1063.4 L207.7 1063.6 L207.3 1063.8 L206.9 1063.9 L206.5 1064.1 L206 1064.2 L205.6 1064.4 L205.2 1064.5 L204.7 1064.6 L204.3 1064.7 L203.8 1064.9 L203.4 1065 L202.9 1065 L202.4 1065.1 L201.9 1065.2 L201.5 1065.2 L201 1065.3 L200.5 1065.3 L200 1065.4 L199.5 1065.4 L199 1065.4 L198.5 1065.4 L198 1065.4 L197.5 1065.4 L197.1 1065.4 L196.6 1065.3 L196.1 1065.3 L195.6 1065.2 L195.1 1065.2 L194.6 1065.1 L194.2 1065 L193.7 1065 L193.2 1064.9 L192.8 1064.7 L192.3 1064.6 L191.9 1064.5 L191.5 1064.4 L191 1064.2 L190.6 1064.1 L190.2 1063.9 L189.8 1063.8 L189.4 1063.6 L189 1063.4 L188.7 1063.3 L188.5 1063.5 L187.9 1063.9 L187.4 1064.3 L187 1064.6 L186.5 1065 L186 1065.4 L185.6 1065.9Z" fill="#fff" stroke="#222" stroke-width="1.6" stroke-linejoin="round"/>
<path d="M222.9 1095.1 L222.9 1110.1 M195.8 1092.4 L195.8 1107.4 M185.9 1086.4 L185.9 1101.4 M182.1 1070.6 L182.1 1085.6 M188.7 1063.3 L188.7 1063.7 M188.7 1072.5 L188.7 1078.3 M213.5 1056.3 L213.5 1058.5 M227.5 1057.7 L227.5 1065 M246.7 1069.2 L246.7 1069.8 M246.7 1077.1 L246.7 1084.2 M248.7 1077.4 L248.7 1092.4 M235.7 1091.5 L235.7 1106.5 " stroke="#222" stroke-width="1.3" fill="none"/>
<path d="M248.7 1075.5 L248.7 1075 L248.7 1074.5 L248.6 1074.1 L248.5 1073.6 L248.4 1073.1 L248.2 1072.6 L248.1 1072.2 L247.9 1071.7 L247.7 1071.2 L247.5 1070.7 L247.3 1070.3 L247 1069.8 L246.8 1069.4 L246.7 1069.2 L246.6 1069.2 L246.2 1069.3 L245.7 1069.4 L245.2 1069.5 L244.8 1069.6 L244.3 1069.6 L243.8 1069.7 L243.3 1069.7 L242.8 1069.8 L242.3 1069.8 L241.9 1069.8 L241.4 1069.8 L240.9 1069.8 L240.4 1069.8 L239.9 1069.8 L239.4 1069.7 L238.9 1069.7 L238.4 1069.6 L238 1069.6 L237.5 1069.5 L237 1069.4 L236.5 1069.3 L236.1 1069.2 L235.6 1069.1 L235.2 1069 L234.7 1068.9 L234.3 1068.8 L233.9 1068.6 L233.4 1068.5 L233 1068.3 L232.6 1068.2 L232.2 1068 L231.8 1067.8 L231.5 1067.6 L231.1 1067.4 L230.8 1067.2 L230.4 1067 L230.1 1066.8 L229.8 1066.6 L229.5 1066.4 L229.2 1066.2 L228.9 1065.9 L228.6 1065.7 L228.4 1065.4 L228.1 1065.2 L227.9 1064.9 L227.7 1064.7 L227.5 1064.4 L227.3 1064.2 L227.2 1063.9 L227 1063.6 L226.9 1063.3 L226.8 1063.1 L226.7 1062.8 L226.6 1062.5 L226.5 1062.2 L226.4 1061.9 L226.4 1061.7 L226.4 1061.4 L226.4 1061.1 L226.4 1060.8 L226.4 1060.5 L226.4 1060.2 L226.5 1060 L226.6 1059.7 L226.7 1059.4 L226.8 1059.1 L226.9 1058.8 L227 1058.6 L227.2 1058.3 L227.3 1058 L227.5 1057.8 L227.5 1057.7 L227 1057.6 L226.2 1057.4 L225.4 1057.3 L224.6 1057.1 L223.8 1057 L223 1056.9 L222.2 1056.8 L221.4 1056.7 L220.6 1056.6 L219.7 1056.5 L218.9 1056.4 L218.1 1056.4 L217.3 1056.3 L216.4 1056.3 L215.6 1056.3 L214.8 1056.3 L213.9 1056.3 L213.5 1056.3 L213.5 1056.4 L213.5 1056.7 L213.5 1057 L213.5 1057.3 L213.5 1057.6 L213.4 1057.8 L213.3 1058.1 L213.2 1058.4 L213.1 1058.7 L213 1059 L212.9 1059.2 L212.7 1059.5 L212.6 1059.8 L212.4 1060 L212.2 1060.3 L212 1060.6 L211.8 1060.8 L211.5 1061.1 L211.3 1061.3 L211 1061.5 L210.7 1061.8 L210.4 1062 L210.1 1062.2 L209.8 1062.4 L209.5 1062.7 L209.1 1062.9 L208.8 1063.1 L208.4 1063.3 L208 1063.4 L207.7 1063.6 L207.3 1063.8 L206.9 1063.9 L206.5 1064.1 L206 1064.2 L205.6 1064.4 L205.2 1064.5 L204.7 1064.6 L204.3 1064.7 L203.8 1064.9 L203.4 1065 L202.9 1065 L202.4 1065.1 L201.9 1065.2 L201.5 1065.2 L201 1065.3 L200.5 1065.3 L200 1065.4 L199.5 1065.4 L199 1065.4 L198.5 1065.4 L198 1065.4 L197.5 1065.4 L197.1 1065.4 L196.6 1065.3 L196.1 1065.3 L195.6 1065.2 L195.1 1065.2 L194.6 1065.1 L194.2 1065 L193.7 1065 L193.2 1064.9 L192.8 1064.7 L192.3 1064.6 L191.9 1064.5 L191.5 1064.4 L191 1064.2 L190.6 1064.1 L190.2 1063.9 L189.8 1063.8 L189.4 1063.6 L189 1063.4 L188.7 1063.3 L188.5 1063.5 L187.9 1063.9 L187.4 1064.3 L187 1064.6 L186.5 1065 L186 1065.4 L185.6 1065.9 L185.2 1066.3 L184.8 1066.7 L184.4 1067.1 L184 1067.6 L183.7 1068 L183.3 1068.5 L183 1068.9 L182.7 1069.4 L182.5 1069.8 L182.2 1070.3 L182.1 1070.6 L182.5 1070.7 L182.9 1070.7 L183.4 1070.8 L183.9 1070.9 L184.3 1071.1 L184.7 1071.2 L185.2 1071.3 L185.6 1071.5 L186 1071.6 L186.4 1071.8 L186.8 1071.9 L187.2 1072.1 L187.6 1072.3 L188 1072.4 L188.4 1072.6 L188.7 1072.8 L189.1 1073 L189.4 1073.3 L189.7 1073.5 L190 1073.7 L190.3 1073.9 L190.6 1074.2 L190.8 1074.4 L191.1 1074.6 L191.3 1074.9 L191.6 1075.1 L191.8 1075.4 L192 1075.7 L192.1 1075.9 L192.3 1076.2 L192.5 1076.5 L192.6 1076.7 L192.7 1077 L192.8 1077.3 L192.9 1077.6 L193 1077.9 L193 1078.1 L193.1 1078.4 L193.1 1078.7 L193.1 1079 L193.1 1079.3 L193.1 1079.6 L193 1079.8 L193 1080.1 L192.9 1080.4 L192.8 1080.7 L192.7 1081 L192.6 1081.2 L192.5 1081.5 L192.3 1081.8 L192.1 1082.1 L192 1082.3 L191.8 1082.6 L191.6 1082.8 L191.3 1083.1 L191.1 1083.3 L190.8 1083.6 L190.6 1083.8 L190.3 1084.1 L190 1084.3 L189.7 1084.5 L189.4 1084.7 L189.1 1084.9 L188.7 1085.1 L188.4 1085.3 L188 1085.5 L187.6 1085.7 L187.2 1085.9 L186.8 1086.1 L186.4 1086.2 L186 1086.4 L185.9 1086.4 L186 1086.6 L186.5 1087 L187 1087.4 L187.4 1087.7 L187.9 1088.1 L188.5 1088.5 L189 1088.9 L189.6 1089.2 L190.1 1089.6 L190.7 1089.9 L191.3 1090.3 L191.9 1090.6 L192.5 1090.9 L193.2 1091.2 L193.8 1091.5 L194.5 1091.8 L195.2 1092.1 L195.8 1092.4 L195.9 1092.3 L196.1 1092.1 L196.4 1091.8 L196.7 1091.6 L197 1091.4 L197.4 1091.2 L197.7 1091 L198.1 1090.8 L198.4 1090.6 L198.8 1090.4 L199.2 1090.2 L199.6 1090.1 L200 1089.9 L200.4 1089.7 L200.8 1089.6 L201.3 1089.5 L201.7 1089.3 L202.1 1089.2 L202.6 1089.1 L203 1089 L203.5 1088.9 L204 1088.8 L204.4 1088.7 L204.9 1088.7 L205.4 1088.6 L205.9 1088.6 L206.4 1088.5 L206.9 1088.5 L207.3 1088.5 L207.8 1088.4 L208.3 1088.4 L208.8 1088.4 L209.3 1088.5 L209.8 1088.5 L210.3 1088.5 L210.8 1088.6 L211.3 1088.6 L211.7 1088.7 L212.2 1088.7 L212.7 1088.8 L213.1 1088.9 L213.6 1089 L214.1 1089.1 L214.5 1089.2 L215 1089.3 L215.4 1089.5 L215.8 1089.6 L216.2 1089.7 L216.7 1089.9 L217.1 1090.1 L217.5 1090.2 L217.8 1090.4 L218.2 1090.6 L218.6 1090.8 L218.9 1091 L219.3 1091.2 L219.6 1091.4 L219.9 1091.6 L220.2 1091.8 L220.5 1092.1 L220.8 1092.3 L221.1 1092.5 L221.3 1092.8 L221.6 1093 L221.8 1093.3 L222 1093.5 L222.2 1093.8 L222.4 1094.1 L222.5 1094.3 L222.7 1094.6 L222.8 1094.9 L222.9 1095.1 L223 1095.1 L223.8 1095 L224.6 1094.9 L225.4 1094.7 L226.2 1094.6 L227 1094.4 L227.8 1094.2 L228.5 1094 L229.3 1093.8 L230 1093.6 L230.8 1093.4 L231.5 1093.2 L232.2 1092.9 L232.9 1092.7 L233.6 1092.4 L234.3 1092.1 L235 1091.8 L235.7 1091.5 L235.7 1091.5 L235.5 1091.4 L235.2 1091.1 L234.9 1090.9 L234.7 1090.7 L234.4 1090.4 L234.2 1090.2 L234 1089.9 L233.8 1089.7 L233.6 1089.4 L233.4 1089.1 L233.2 1088.9 L233.1 1088.6 L232.9 1088.3 L232.8 1088.1 L232.7 1087.8 L232.6 1087.5 L232.5 1087.2 L232.5 1086.9 L232.5 1086.6 L232.4 1086.4 L232.4 1086.1 L232.4 1085.8 L232.5 1085.5 L232.5 1085.2 L232.5 1084.9 L232.6 1084.7 L232.7 1084.4 L232.8 1084.1 L232.9 1083.8 L233.1 1083.5 L233.2 1083.3 L233.4 1083 L233.6 1082.7 L233.8 1082.5 L234 1082.2 L234.2 1082 L234.4 1081.7 L234.7 1081.5 L234.9 1081.2 L235.2 1081 L235.5 1080.8 L235.8 1080.6 L236.1 1080.3 L236.5 1080.1 L236.8 1079.9 L237.2 1079.7 L237.5 1079.5 L237.9 1079.3 L238.3 1079.2 L238.7 1079 L239.1 1078.8 L239.5 1078.7 L239.9 1078.5 L240.3 1078.4 L240.8 1078.3 L241.2 1078.2 L241.7 1078 L242.1 1077.9 L242.6 1077.8 L243.1 1077.7 L243.5 1077.7 L244 1077.6 L244.5 1077.5 L245 1077.5 L245.5 1077.4 L245.9 1077.4 L246.4 1077.4 L246.9 1077.4 L247.4 1077.4 L247.9 1077.4 L248.4 1077.4 L248.7 1077.4 L248.7 1077 L248.7 1076.5 L248.8 1076 L248.7 1075.5Z" fill="#fff" stroke="#222" stroke-width="1.6" stroke-linejoin="round"/>
<path d="M184.3 1069.9 L184.5 1070 L184.6 1070 L185 1070.1 L185.1 1070.1 L185.5 1070.2 L185.6 1070.3 L186 1070.4 L186.1 1070.4 L186.5 1070.5 L186.5 1070.6 L187 1070.7 L187 1070.7 L187.4 1070.9 L187.5 1070.9 L187.9 1071.1 L187.9 1071.1 L188.3 1071.2 L188.4 1071.3 L188.7 1071.4 L188.8 1071.5 L189.2 1071.6 L189.2 1071.7 L189.6 1071.9 L189.6 1071.9 L190 1072.1 L190 1072.1 L190.4 1072.3 L190.4 1072.3 L190.7 1072.5 L190.8 1072.6 L191.1 1072.8 L191.1 1072.8 L191.4 1073 L191.5 1073.1 L191.7 1073.3 L191.8 1073.3 L192.1 1073.6 L192.1 1073.6 L192.4 1073.8 L192.4 1073.9 L192.6 1074.1 L192.7 1074.1 L192.9 1074.4 L192.9 1074.4 L193.2 1074.7 L193.2 1074.7 L193.4 1074.9 L193.4 1075 L193.6 1075.2 L193.6 1075.3 L193.8 1075.5 L193.8 1075.6 L194 1075.8 L194 1075.9 L194.2 1076.1 L194.2 1076.2 L194.3 1076.4 L194.3 1076.5 L194.5 1076.8 L194.5 1076.8 L194.6 1077.1 L194.6 1077.1 L194.7 1077.4 L194.7 1077.4 L194.8 1077.7 L194.8 1077.7 L194.8 1078 L194.8 1078 L194.9 1078.3 L194.9 1078.4 L194.9 1078.7 L194.9 1078.7 L194.9 1079 L194.9 1079 L194.9 1079.3 L194.9 1079.3 L194.9 1079.6 L194.9 1079.6 L194.8 1079.9 L194.8 1080 L194.8 1080.2 L194.8 1080.3 L194.7 1080.6 L194.7 1080.6 L194.6 1080.9 L194.6 1080.9 L194.5 1081.2 L194.5 1081.2 L194.3 1081.5 L194.3 1081.5 L194.2 1081.8 L194.2 1081.8 L194 1082.1 L194 1082.1 L193.8 1082.4 L193.8 1082.4 L193.6 1082.7 L193.6 1082.7 L193.4 1083 L193.4 1083 L193.2 1083.3 L193.2 1083.3 L192.9 1083.6 L192.9 1083.6 L192.7 1083.8 L192.6 1083.9 L192.4 1084.1 L192.4 1084.1 L192.1 1084.4 L192.1 1084.4 L191.8 1084.6 L191.7 1084.7 L191.5 1084.9 L191.4 1084.9 L191.1 1085.2 L191.1 1085.2 L190.8 1085.4 L190.7 1085.4 L190.4 1085.6 L190.4 1085.7 L190 1085.9 L190 1085.9 L189.6 1086.1 L189.6 1086.1 L189.2 1086.3 L189.2 1086.3 L188.8 1086.5 L188.7 1086.5 L188.4 1086.7 L188.4 1086.8 L188.9 1087.1 L189.4 1087.5 L189.9 1087.8 L190.4 1088.2 L190.9 1088.5 L191.4 1088.9 L192 1089.2 L192.5 1089.5 L193.1 1089.8 L193.7 1090.1 L194.3 1090.4 L194.9 1090.7 L195.4 1090.9 L195.7 1090.7 L195.7 1090.7 L196 1090.5 L196.1 1090.5 L196.4 1090.3 L196.5 1090.2 L196.8 1090 L196.9 1090 L197.2 1089.8 L197.3 1089.8 L197.6 1089.6 L197.7 1089.6 L198.1 1089.4 L198.1 1089.4 L198.5 1089.2 L198.6 1089.2 L199 1089 L199 1089 L199.4 1088.9 L199.5 1088.9 L199.9 1088.7 L200 1088.7 L200.4 1088.5 L200.4 1088.5 L200.9 1088.4 L200.9 1088.4 L201.4 1088.3 L201.4 1088.3 L201.9 1088.1 L201.9 1088.1 L202.4 1088 L202.4 1088 L202.9 1087.9 L203 1087.9 L203.4 1087.8 L203.5 1087.8 L203.9 1087.7 L204 1087.7 L204.5 1087.6 L204.5 1087.6 L205 1087.6 L205.1 1087.6 L205.6 1087.5 L205.6 1087.5 L206.1 1087.5 L206.2 1087.5 L206.6 1087.4 L206.7 1087.4 L207.2 1087.4 L207.3 1087.4 L207.7 1087.4 L207.8 1087.4 L208.3 1087.4 L208.4 1087.4 L208.8 1087.4 L208.9 1087.4 L209.4 1087.4 L209.5 1087.4 L209.9 1087.4 L210 1087.4 L210.5 1087.5 L210.5 1087.5 L211 1087.5 L211.1 1087.5 L211.6 1087.6 L211.6 1087.6 L212.1 1087.6 L212.2 1087.6 L212.6 1087.7 L212.7 1087.7 L213.2 1087.8 L213.2 1087.8 L213.7 1087.9 L213.8 1087.9 L214.2 1088 L214.3 1088 L214.7 1088.1 L214.8 1088.1 L215.2 1088.3 L215.3 1088.3 L215.7 1088.4 L215.8 1088.4 L216.2 1088.5 L216.3 1088.5 L216.7 1088.7 L216.8 1088.7 L217.2 1088.9 L217.2 1088.9 L217.6 1089 L217.7 1089 L218.1 1089.2 L218.1 1089.2 L218.5 1089.4 L218.6 1089.4 L219 1089.6 L219 1089.6 L219.4 1089.8 L219.4 1089.8 L219.8 1090 L219.8 1090 L220.2 1090.2 L220.2 1090.3 L220.6 1090.5 L220.6 1090.5 L220.9 1090.7 L221 1090.7 L221.3 1090.9 L221.3 1091 L221.6 1091.2 L221.7 1091.2 L222 1091.4 L222 1091.5 L222.3 1091.7 L222.3 1091.7 L222.6 1092 L222.6 1092 L222.9 1092.2 L222.9 1092.3 L223.1 1092.5 L223.2 1092.6 L223.4 1092.8 L223.4 1092.8 L223.6 1093.1 L223.6 1093.1 L223.8 1093.4 L223.9 1093.4 L224 1093.7 L224.1 1093.7 L224.1 1093.9 L224.9 1093.7 L225.6 1093.6 L226.3 1093.4 L227.1 1093.3 L227.8 1093.1 L228.5 1092.9 L229.2 1092.7 L229.9 1092.5 L230.6 1092.2 L231.3 1092 L232 1091.8 L232.6 1091.5 L233.2 1091.3 L233.2 1091.2 L233.1 1091.2 L232.9 1091 L232.9 1090.9 L232.6 1090.7 L232.6 1090.7 L232.4 1090.4 L232.3 1090.4 L232.1 1090.1 L232.1 1090.1 L231.9 1089.8 L231.9 1089.8 L231.7 1089.5 L231.7 1089.5 L231.5 1089.2 L231.5 1089.2 L231.4 1088.9 L231.3 1088.9 L231.2 1088.6 L231.2 1088.6 L231.1 1088.3 L231.1 1088.3 L230.9 1088 L230.9 1088 L230.8 1087.7 L230.8 1087.6 L230.8 1087.4 L230.8 1087.3 L230.7 1087 L230.7 1087 L230.7 1086.7 L230.7 1086.7 L230.6 1086.4 L230.6 1086.4 L230.6 1086.1 L230.6 1086.1 L230.6 1085.8 L230.6 1085.7 L230.7 1085.5 L230.7 1085.4 L230.7 1085.1 L230.7 1085.1 L230.8 1084.8 L230.8 1084.8 L230.8 1084.5 L230.8 1084.5 L230.9 1084.2 L230.9 1084.2 L231.1 1083.9 L231.1 1083.8 L231.2 1083.6 L231.2 1083.5 L231.3 1083.3 L231.4 1083.2 L231.5 1083 L231.5 1082.9 L231.7 1082.7 L231.7 1082.6 L231.9 1082.4 L231.9 1082.3 L232.1 1082.1 L232.1 1082 L232.3 1081.8 L232.4 1081.7 L232.6 1081.5 L232.6 1081.5 L232.9 1081.2 L232.9 1081.2 L233.1 1080.9 L233.2 1080.9 L233.4 1080.7 L233.5 1080.6 L233.7 1080.4 L233.8 1080.4 L234.1 1080.2 L234.1 1080.1 L234.4 1079.9 L234.5 1079.9 L234.8 1079.7 L234.8 1079.6 L235.1 1079.4 L235.2 1079.4 L235.5 1079.2 L235.6 1079.2 L235.9 1079 L236 1079 L236.3 1078.8 L236.4 1078.7 L236.7 1078.6 L236.8 1078.5 L237.2 1078.4 L237.2 1078.3 L237.6 1078.2 L237.7 1078.1 L238.1 1078 L238.1 1078 L238.5 1077.8 L238.6 1077.8 L239 1077.6 L239 1077.6 L239.5 1077.5 L239.5 1077.5 L240 1077.3 L240 1077.3 L240.5 1077.2 L240.5 1077.2 L241 1077.1 L241 1077.1 L241.5 1077 L241.5 1076.9 L242 1076.9 L242 1076.8 L242.5 1076.8 L242.6 1076.7 L243 1076.7 L243.1 1076.7 L243.6 1076.6 L243.6 1076.6 L244.1 1076.5 L244.2 1076.5 L244.7 1076.5 L244.7 1076.5 L245.2 1076.4 L245.3 1076.4 L245.7 1076.4 L245.8 1076.4 L246.3 1076.4 L246.3 1076.4 L246.8 1076.3 L246.9 1076.3 L246.9 1076.3 L246.9 1076 L246.9 1075.5 L246.9 1075.1 L246.9 1074.6 L246.8 1074.2 L246.7 1073.7 L246.6 1073.3 L246.5 1072.8 L246.3 1072.4 L246.2 1071.9 L246 1071.5 L245.8 1071 L245.6 1070.6 L245.5 1070.5 L245.2 1070.6 L245.2 1070.6 L244.7 1070.6 L244.6 1070.7 L244.1 1070.7 L244.1 1070.7 L243.6 1070.8 L243.5 1070.8 L243 1070.8 L243 1070.8 L242.5 1070.8 L242.4 1070.8 L241.9 1070.8 L241.9 1070.8 L241.4 1070.8 L241.3 1070.8 L240.8 1070.8 L240.8 1070.8 L240.3 1070.8 L240.2 1070.8 L239.7 1070.8 L239.7 1070.8 L239.2 1070.8 L239.1 1070.8 L238.7 1070.7 L238.6 1070.7 L238.1 1070.7 L238.1 1070.6 L237.6 1070.6 L237.5 1070.6 L237 1070.5 L237 1070.5 L236.5 1070.4 L236.5 1070.4 L236 1070.3 L235.9 1070.3 L235.5 1070.2 L235.4 1070.2 L235 1070.1 L234.9 1070.1 L234.5 1070 L234.4 1070 L234 1069.8 L233.9 1069.8 L233.5 1069.7 L233.4 1069.7 L233 1069.5 L232.9 1069.5 L232.5 1069.4 L232.5 1069.4 L232.1 1069.2 L232 1069.2 L231.6 1069 L231.6 1069 L231.2 1068.8 L231.1 1068.8 L230.7 1068.6 L230.7 1068.6 L230.3 1068.4 L230.3 1068.4 L229.9 1068.2 L229.9 1068.2 L229.5 1068 L229.5 1068 L229.1 1067.8 L229.1 1067.7 L228.8 1067.5 L228.7 1067.5 L228.4 1067.3 L228.4 1067.3 L228.1 1067 L228 1067 L227.7 1066.8 L227.7 1066.8 L227.4 1066.5 L227.4 1066.5 L227.1 1066.3 L227.1 1066.2 L226.8 1066 L226.8 1065.9 L226.6 1065.7 L226.5 1065.7 L226.3 1065.4 L226.3 1065.4 L226.1 1065.1 L226.1 1065.1 L225.9 1064.8 L225.8 1064.8 L225.7 1064.5 L225.6 1064.5 L225.5 1064.2 L225.4 1064.2 L225.3 1063.9 L225.3 1063.9 L225.1 1063.6 L225.1 1063.6 L225 1063.3 L225 1063.3 L224.9 1063 L224.9 1063 L224.8 1062.7 L224.8 1062.7 L224.7 1062.4 L224.7 1062.3 L224.6 1062.1 L224.6 1062 L224.6 1061.7 L224.6 1061.7 L224.6 1061.4 L224.6 1061.4 L224.6 1061.1 L224.6 1061.1 L224.6 1060.8 L224.6 1060.8 L224.6 1060.5 L224.6 1060.4 L224.6 1060.2 L224.6 1060.1 L224.7 1059.8 L224.7 1059.8 L224.8 1059.5 L224.8 1059.5 L224.9 1059.2 L224.9 1059.2 L225 1058.9 L225 1058.9 L225.1 1058.6 L225.1 1058.6 L225.2 1058.3 L224.9 1058.3 L224.1 1058.1 L223.3 1058 L222.6 1057.9 L221.8 1057.8 L221 1057.7 L220.3 1057.6 L219.5 1057.5 L218.7 1057.5 L217.9 1057.4 L217.1 1057.4 L216.3 1057.3 L215.5 1057.3 L215.3 1057.3 L215.3 1057.3 L215.3 1057.4 L215.3 1057.6 L215.2 1057.7 L215.2 1058 L215.2 1058 L215.1 1058.3 L215.1 1058.3 L215 1058.6 L215 1058.6 L214.9 1058.9 L214.9 1058.9 L214.8 1059.2 L214.7 1059.3 L214.6 1059.5 L214.6 1059.6 L214.4 1059.8 L214.4 1059.9 L214.3 1060.1 L214.2 1060.2 L214.1 1060.4 L214 1060.5 L213.8 1060.7 L213.8 1060.7 L213.6 1061 L213.6 1061 L213.4 1061.3 L213.3 1061.3 L213.1 1061.6 L213.1 1061.6 L212.8 1061.8 L212.8 1061.9 L212.5 1062.1 L212.5 1062.1 L212.2 1062.4 L212.2 1062.4 L211.9 1062.6 L211.8 1062.7 L211.5 1062.9 L211.5 1062.9 L211.2 1063.1 L211.1 1063.1 L210.8 1063.4 L210.8 1063.4 L210.4 1063.6 L210.4 1063.6 L210 1063.8 L210 1063.8 L209.6 1064 L209.6 1064 L209.2 1064.2 L209.2 1064.3 L208.8 1064.4 L208.7 1064.5 L208.3 1064.6 L208.3 1064.6 L207.9 1064.8 L207.8 1064.8 L207.4 1065 L207.4 1065 L207 1065.1 L206.9 1065.2 L206.5 1065.3 L206.4 1065.3 L206 1065.4 L205.9 1065.5 L205.5 1065.6 L205.4 1065.6 L205 1065.7 L204.9 1065.7 L204.5 1065.8 L204.4 1065.8 L204 1065.9 L203.9 1065.9 L203.4 1066 L203.4 1066 L202.9 1066.1 L202.8 1066.1 L202.4 1066.2 L202.3 1066.2 L201.8 1066.3 L201.8 1066.3 L201.3 1066.3 L201.2 1066.3 L200.8 1066.4 L200.7 1066.4 L200.2 1066.4 L200.1 1066.4 L199.7 1066.4 L199.6 1066.4 L199.1 1066.4 L199.1 1066.5 L198.6 1066.5 L198.5 1066.5 L198 1066.5 L198 1066.4 L197.5 1066.4 L197.4 1066.4 L196.9 1066.4 L196.9 1066.4 L196.4 1066.4 L196.3 1066.4 L195.8 1066.3 L195.8 1066.3 L195.3 1066.3 L195.2 1066.3 L194.7 1066.2 L194.7 1066.2 L194.2 1066.1 L194.2 1066.1 L193.7 1066 L193.6 1066 L193.2 1065.9 L193.1 1065.9 L192.6 1065.8 L192.6 1065.8 L192.1 1065.7 L192.1 1065.7 L191.6 1065.6 L191.6 1065.6 L191.1 1065.5 L191.1 1065.4 L190.6 1065.3 L190.6 1065.3 L190.2 1065.2 L190.1 1065.1 L189.7 1065 L189.6 1065 L189.2 1064.8 L189.2 1064.8 L189 1064.8 L188.9 1064.9 L188.4 1065.2 L188 1065.6 L187.5 1066 L187.1 1066.4 L186.7 1066.8 L186.4 1067.2 L186 1067.6 L185.6 1068 L185.3 1068.4 L185 1068.9 L184.7 1069.3 L184.4 1069.7 L184.3 1069.9Z" fill="none" stroke="#666" stroke-width="1"/>
<ellipse cx="214.2" cy="1076.1" rx="17.7" ry="10.3" transform="rotate(0 214.2 1076.1)" fill="#fff" stroke="#222" stroke-width="1.4"/>
<ellipse cx="214.2" cy="1071.5" rx="17.7" ry="10.3" transform="rotate(0 214.2 1071.5)" fill="none" stroke="#333" stroke-width="1.2"/>
<polygon points="231.9,1064.6 231.9,1076.1 196.5,1076.1 196.5,1064.6" fill="#fff" stroke="none"/>
<path d="M231.9 1064.6 L231.9 1076.1 M196.5 1076.1 L196.5 1064.6" stroke="#222" stroke-width="1.4"/>
<ellipse cx="214.2" cy="1064.6" rx="17.7" ry="10.3" transform="rotate(0 214.2 1064.6)" fill="#fff" stroke="#222" stroke-width="1.6"/>
<ellipse cx="214.3" cy="1064.6" rx="7.2" ry="3.8" fill="#fff" stroke="#222" stroke-width="1.3"/>
<path d="M656.7 889.3 L670.4 874.3 Q673 872.8 676.5 873.3 L690.7 876 Q695 878 693.3 882.5 L683.3 900.7 L672 898 Z" fill="#fff" stroke="#222" stroke-width="1.4"/>
<path d="M660 889.5 L671.5 877.3 L688.8 879.6 Q691 880.8 690.2 883 L681.5 899" fill="none" stroke="#222" stroke-width="1.2"/>
<g transform="translate(673.7 896) rotate(63.8)">
<path d="M0 -6.3 L91.4 -6.3 Q94.4 0 91.4 6.3 L0 6.3 Z" fill="#fff" stroke="#222" stroke-width="1.4"/>
<path d="M36.5 -5.6 H90.9 Q93.6 0 90.9 5.6 H36.5 Z" fill="#b5b5b5" stroke="none"/>
<path d="M36.5 -6.3 Q39 0 36.5 6.3" stroke="#222" stroke-width="1.4" fill="none"/>
<path d="M39.8 -5.3 Q42.1 0 39.8 5.3 M44 -5.3 Q46.3 0 44 5.3 M48.2 -5.3 Q50.5 0 48.2 5.3 M52.4 -5.3 Q54.7 0 52.4 5.3 M56.6 -5.3 Q58.9 0 56.6 5.3 M60.8 -5.3 Q63.1 0 60.8 5.3 M65 -5.3 Q67.3 0 65 5.3 M69.2 -5.3 Q71.5 0 69.2 5.3 M73.4 -5.3 Q75.7 0 73.4 5.3 M77.6 -5.3 Q79.9 0 77.6 5.3 M81.8 -5.3 Q84.1 0 81.8 5.3 M86 -5.3 Q88.3 0 86 5.3 M90.2 -5.3 Q92.5 0 90.2 5.3 " stroke="#f4f4f4" stroke-width="1.8" fill="none"/>
<path d="M37.7 -5.8 Q40.2 0 37.7 5.8 M41.9 -5.8 Q44.4 0 41.9 5.8 M46.1 -5.8 Q48.6 0 46.1 5.8 M50.3 -5.8 Q52.8 0 50.3 5.8 M54.5 -5.8 Q57 0 54.5 5.8 M58.7 -5.8 Q61.2 0 58.7 5.8 M62.9 -5.8 Q65.4 0 62.9 5.8 M67.1 -5.8 Q69.6 0 67.1 5.8 M71.3 -5.8 Q73.8 0 71.3 5.8 M75.5 -5.8 Q78 0 75.5 5.8 M79.7 -5.8 Q82.2 0 79.7 5.8 M83.9 -5.8 Q86.4 0 83.9 5.8 M88.1 -5.8 Q90.6 0 88.1 5.8 " stroke="#333" stroke-width="1.3" fill="none"/>
<path d="M0 -6.3 L91.4 -6.3 M0 6.3 L91.4 6.3" stroke="#222" stroke-width="1.6"/>
</g>
<path d="M692.1 977.4 L691.6 977.9 L691.2 978.5 L690.8 979.1 L690.4 979.7 L690.1 980.3 L689.7 981 L689.4 981.6 L689.1 982.2 L688.8 982.8 L688.6 983.1 L694.3 996.6 L694.7 996.7 L695.2 996.7 L695.6 996.8 L696 996.9 L696.4 997 L696.7 997 L696.5 997.4 L696.3 997.7 L696 998.1 L695.8 998.5 L695.5 998.8 L695.2 999.2 L695 999.5 L694.7 999.9 L694.3 1000.2 L694 1000.5 L693.7 1000.8 L693.3 1001.2 L693 1001.5 L692.6 1001.8 L692.2 1002.1 L691.9 1002.4 L691.5 1002.6 L691.1 1002.9 L690.7 1003.2 L690.3 1003.4 L696 1016.9 L696.2 1017.1 L696.5 1017.6 L696.9 1018 L697.4 1018.4 L697.8 1018.9 L698.2 1019.3 L698.7 1019.7 L699.2 1020 L699.7 1020.4 L700.2 1020.8 L700.7 1021.1 L701.2 1021.5 L701.8 1021.8 L702.4 1022.1 L702.9 1022.4 L703.5 1022.7 L704 1022.9 L704.1 1022.8 L704.4 1022.4 L704.7 1022.1 L705 1021.7 L705.3 1021.4 L705.7 1021.1 L706 1020.8 L706.4 1020.5 L706.8 1020.2 L707.2 1019.9 L707.6 1019.6 L708 1019.4 L708.4 1019.1 L708.8 1018.8 L709.2 1018.6 L709.6 1018.4 L710.1 1018.1 L710.5 1017.9 L711 1017.7 L711.4 1017.5 L711.9 1017.4 L712.3 1017.2 L712.8 1017 L713.3 1016.9 L713.7 1016.7 L714.2 1016.6 L714.7 1016.5 L715.1 1016.4 L715.6 1016.3 L716.1 1016.2 L716.5 1016.2 L717 1016.1 L717.5 1016.1 L717.9 1016 L718.4 1016 L718.9 1016 L719.3 1016 L719.8 1016.1 L720.2 1016.1 L720.7 1016.1 L721.1 1016.2 L721.5 1016.3 L721.9 1016.3 L722.4 1016.4 L722.8 1016.5 L723.2 1016.7 L723.6 1016.8 L723.9 1016.9 L724.3 1017.1 L724.7 1017.3 L725 1017.4 L725.4 1017.6 L725.7 1017.8 L726 1018 L726.3 1018.2 L726.6 1018.5 L726.9 1018.7 L727.2 1018.9 L727.4 1019.2 L727.7 1019.5 L727.9 1019.7 L728.1 1020 L728.4 1020.3 L728.4 1020.4 L729.5 1023.1 L729.7 1023 L730.5 1022.7 L731.2 1022.5 L732 1022.2 L732.7 1021.9 L733.5 1021.5 L734.2 1021.2 L735 1020.9 L735.7 1020.5 L736.4 1020.1 L737.1 1019.7 L737.8 1019.4 L738.5 1018.9 L739.2 1018.5 L739.9 1018.1 L740.5 1017.7 L741.2 1017.2 L738.7 1011.4 L738.7 1011.2 L738.7 1010.8 L738.7 1010.4 L738.8 1010.1 L738.8 1009.7 L738.9 1009.3 L739 1008.9 L739.1 1008.6 L739.3 1008.2 L739.4 1007.8 L739.5 1007.4 L739.7 1007 L739.9 1006.7 L740.1 1006.3 L740.3 1005.9 L740.5 1005.6 L740.8 1005.2 L741 1004.8 L741.3 1004.5 L741.5 1004.1 L741.8 1003.8 L742.1 1003.4 L742.4 1003.1 L742.8 1002.8 L743.1 1002.4 L743.5 1002.1 L743.8 1001.8 L744.2 1001.5 L744.5 1001.2 L744.9 1000.9 L745.3 1000.7 L745.7 1000.4 L746.1 1000.1 L746.5 999.9 L747 999.6 L747.4 999.4 L747.8 999.2 L748.3 999 L748.7 998.7 L749.2 998.6 L749.6 998.4 L750.1 998.2 L750.6 998 L751 997.9 L751.5 997.8 L752 997.6 L752.4 997.5 L752.9 997.4 L753.4 997.3 L753.8 997.2 L754.3 997.2 L754.8 997.1 L755.2 997.1 L755.3 997.1 L755.3 997.1 L755.4 996.4 L755.5 995.8 L755.5 995.2 L755.6 994.6 L755.6 994 L755.6 993.4 L755.6 992.8 L755.5 992.2 L755.5 991.6 L755.4 991 L755.3 990.4 L755.2 989.8 L755 989.2 L754.9 988.7 L754.7 988.1 L754.5 987.6 L754.5 987.5 L748.8 974 L748.7 974 L748.3 974.2 L747.8 974.4 L747.4 974.5 L746.9 974.7 L746.4 974.8 L745.9 974.9 L745.5 975.1 L745 975.2 L744.5 975.2 L744.1 975.3 L743.6 975.4 L743.1 975.4 L742.7 975.5 L742.2 975.5 L741.7 975.5 L741.3 975.5 L740.8 975.5 L740.4 975.5 L739.9 975.5 L739.5 975.4 L739 975.4 L738.6 975.3 L738.2 975.2 L737.8 975.1 L737.6 975.1 L737.7 974.9 L732 961.4 L731.4 961.2 L730.7 961.1 L729.9 961 L729.2 961 L728.5 960.9 L727.7 960.9 L727 960.8 L726.3 960.8 L725.5 960.8 L724.7 960.8 L724 960.8 L723.2 960.9 L722.4 961 L721.7 961 L720.9 961.1 L720.1 961.2 L719.9 961.3 L719.8 961.5 L719.8 961.8 L719.8 962.2 L719.7 962.6 L719.6 963 L719.5 963.4 L719.4 963.7 L719.3 964.1 L719.2 964.5 L719 964.9 L718.8 965.2 L718.7 965.6 L718.5 966 L718.3 966.4 L718 966.7 L717.8 967.1 L717.5 967.5 L717.3 967.8 L717 968.2 L716.7 968.5 L716.4 968.9 L716.1 969.2 L715.8 969.5 L715.4 969.8 L715.1 970.2 L714.7 970.5 L714.4 970.8 L714 971.1 L713.6 971.4 L713.2 971.6 L712.8 971.9 L712.4 972.2 L712 972.4 L711.6 972.7 L711.2 972.9 L710.7 973.1 L710.3 973.3 L709.8 973.5 L709.4 973.7 L708.9 973.9 L708.5 974.1 L708 974.2 L707.5 974.4 L707.1 974.5 L706.6 974.7 L706.1 974.8 L705.7 974.9 L705.2 975 L704.7 975 L704.2 975.1 L703.8 975.2 L703.3 975.2 L702.8 975.2 L702.4 975.2 L701.9 975.2 L701.5 975.2 L701 975.2 L700.6 975.2 L700.1 975.1 L699.7 975.1 L699.3 975 L698.8 974.9 L698.4 974.8 L698 974.7 L697.6 974.6 L697.2 974.5 L696.9 974.3 L696.5 974.2 L696.1 974 L695.8 973.8 L695.4 973.7 L695.3 973.6 L695 973.9 L694.5 974.5 L693.9 975.1 L693.5 975.6 L693 976.2 L692.5 976.8 L692.1 977.4Z" fill="#fff" stroke="#222" stroke-width="1.6" stroke-linejoin="round"/>
<path d="M749.6 983.6 L755.3 997.1 M735.5 1003.7 L741.2 1017.2 M723.8 1009.6 L729.5 1023.1 M698.3 1009.4 L704 1022.9 M690.3 1003.4 L696 1016.9 M688.6 983.1 L694.3 996.6 M695.3 973.6 L695.5 974 M719.9 961.3 L720.1 961.9 M732 961.4 L737.7 974.9 M748.8 974 L754.5 987.5 " stroke="#222" stroke-width="1.3" fill="none"/>
<path d="M731.4 961.2 L730.7 961.1 L729.9 961 L729.2 961 L728.5 960.9 L727.7 960.9 L727 960.8 L726.3 960.8 L725.5 960.8 L724.7 960.8 L724 960.8 L723.2 960.9 L722.4 961 L721.7 961 L720.9 961.1 L720.1 961.2 L719.9 961.3 L719.8 961.5 L719.8 961.8 L719.8 962.2 L719.7 962.6 L719.6 963 L719.5 963.4 L719.4 963.7 L719.3 964.1 L719.2 964.5 L719 964.9 L718.8 965.2 L718.7 965.6 L718.5 966 L718.3 966.4 L718 966.7 L717.8 967.1 L717.5 967.5 L717.3 967.8 L717 968.2 L716.7 968.5 L716.4 968.9 L716.1 969.2 L715.8 969.5 L715.4 969.8 L715.1 970.2 L714.7 970.5 L714.4 970.8 L714 971.1 L713.6 971.4 L713.2 971.6 L712.8 971.9 L712.4 972.2 L712 972.4 L711.6 972.7 L711.2 972.9 L710.7 973.1 L710.3 973.3 L709.8 973.5 L709.4 973.7 L708.9 973.9 L708.5 974.1 L708 974.2 L707.5 974.4 L707.1 974.5 L706.6 974.7 L706.1 974.8 L705.7 974.9 L705.2 975 L704.7 975 L704.2 975.1 L703.8 975.2 L703.3 975.2 L702.8 975.2 L702.4 975.2 L701.9 975.2 L701.5 975.2 L701 975.2 L700.6 975.2 L700.1 975.1 L699.7 975.1 L699.3 975 L698.8 974.9 L698.4 974.8 L698 974.7 L697.6 974.6 L697.2 974.5 L696.9 974.3 L696.5 974.2 L696.1 974 L695.8 973.8 L695.4 973.7 L695.3 973.6 L695 973.9 L694.5 974.5 L693.9 975.1 L693.5 975.6 L693 976.2 L692.5 976.8 L692.1 977.4 L691.6 977.9 L691.2 978.5 L690.8 979.1 L690.4 979.7 L690.1 980.3 L689.7 981 L689.4 981.6 L689.1 982.2 L688.8 982.8 L688.6 983.1 L689 983.2 L689.5 983.2 L689.9 983.3 L690.3 983.4 L690.7 983.5 L691.2 983.6 L691.6 983.7 L691.9 983.8 L692.3 984 L692.7 984.1 L693.1 984.3 L693.4 984.5 L693.8 984.7 L694.1 984.9 L694.4 985.1 L694.7 985.3 L695 985.5 L695.3 985.8 L695.6 986 L695.8 986.3 L696.1 986.5 L696.3 986.8 L696.5 987.1 L696.7 987.4 L696.9 987.7 L697.1 988 L697.3 988.3 L697.4 988.6 L697.6 988.9 L697.7 989.3 L697.8 989.6 L697.9 989.9 L698 990.3 L698 990.6 L698.1 991 L698.1 991.4 L698.1 991.7 L698.1 992.1 L698.1 992.5 L698.1 992.8 L698 993.2 L697.9 993.6 L697.9 994 L697.8 994.4 L697.7 994.7 L697.5 995.1 L697.4 995.5 L697.3 995.9 L697.1 996.2 L696.9 996.6 L696.7 997 L696.5 997.4 L696.3 997.7 L696 998.1 L695.8 998.5 L695.5 998.8 L695.2 999.2 L695 999.5 L694.7 999.9 L694.3 1000.2 L694 1000.5 L693.7 1000.8 L693.3 1001.2 L693 1001.5 L692.6 1001.8 L692.2 1002.1 L691.9 1002.4 L691.5 1002.6 L691.1 1002.9 L690.7 1003.2 L690.3 1003.4 L690.5 1003.6 L690.8 1004.1 L691.2 1004.5 L691.7 1004.9 L692.1 1005.4 L692.5 1005.8 L693 1006.2 L693.5 1006.5 L694 1006.9 L694.5 1007.3 L695 1007.6 L695.5 1008 L696.1 1008.3 L696.7 1008.6 L697.2 1008.9 L697.8 1009.2 L698.3 1009.4 L698.4 1009.3 L698.7 1008.9 L699 1008.6 L699.3 1008.2 L699.6 1007.9 L700 1007.6 L700.3 1007.3 L700.7 1007 L701.1 1006.7 L701.5 1006.4 L701.9 1006.1 L702.3 1005.9 L702.7 1005.6 L703.1 1005.3 L703.5 1005.1 L703.9 1004.9 L704.4 1004.6 L704.8 1004.4 L705.3 1004.2 L705.7 1004 L706.2 1003.9 L706.6 1003.7 L707.1 1003.5 L707.6 1003.4 L708 1003.2 L708.5 1003.1 L709 1003 L709.4 1002.9 L709.9 1002.8 L710.4 1002.7 L710.8 1002.7 L711.3 1002.6 L711.8 1002.6 L712.2 1002.5 L712.7 1002.5 L713.2 1002.5 L713.6 1002.5 L714.1 1002.6 L714.5 1002.6 L715 1002.6 L715.4 1002.7 L715.8 1002.8 L716.2 1002.8 L716.7 1002.9 L717.1 1003 L717.5 1003.2 L717.9 1003.3 L718.2 1003.4 L718.6 1003.6 L719 1003.8 L719.3 1003.9 L719.7 1004.1 L720 1004.3 L720.3 1004.5 L720.6 1004.7 L720.9 1005 L721.2 1005.2 L721.5 1005.4 L721.7 1005.7 L722 1006 L722.2 1006.2 L722.4 1006.5 L722.7 1006.8 L722.8 1007.1 L723 1007.4 L723.2 1007.7 L723.3 1008.1 L723.5 1008.4 L723.6 1008.7 L723.7 1009.1 L723.8 1009.4 L723.8 1009.6 L724 1009.5 L724.8 1009.2 L725.5 1009 L726.3 1008.7 L727 1008.4 L727.8 1008 L728.5 1007.7 L729.3 1007.4 L730 1007 L730.7 1006.6 L731.4 1006.2 L732.1 1005.9 L732.8 1005.4 L733.5 1005 L734.2 1004.6 L734.8 1004.2 L735.5 1003.7 L735.3 1003.5 L735 1003.3 L734.8 1003 L734.6 1002.7 L734.3 1002.4 L734.2 1002.1 L734 1001.8 L733.8 1001.5 L733.7 1001.2 L733.5 1000.9 L733.4 1000.5 L733.3 1000.2 L733.2 999.8 L733.1 999.5 L733.1 999.1 L733 998.8 L733 998.4 L733 998.1 L733 997.7 L733 997.3 L733 996.9 L733.1 996.6 L733.1 996.2 L733.2 995.8 L733.3 995.4 L733.4 995.1 L733.6 994.7 L733.7 994.3 L733.8 993.9 L734 993.5 L734.2 993.2 L734.4 992.8 L734.6 992.4 L734.8 992.1 L735.1 991.7 L735.3 991.3 L735.6 991 L735.8 990.6 L736.1 990.3 L736.4 989.9 L736.7 989.6 L737.1 989.3 L737.4 988.9 L737.8 988.6 L738.1 988.3 L738.5 988 L738.8 987.7 L739.2 987.4 L739.6 987.2 L740 986.9 L740.4 986.6 L740.8 986.4 L741.3 986.1 L741.7 985.9 L742.1 985.7 L742.6 985.5 L743 985.2 L743.5 985.1 L743.9 984.9 L744.4 984.7 L744.9 984.5 L745.3 984.4 L745.8 984.3 L746.3 984.1 L746.7 984 L747.2 983.9 L747.7 983.8 L748.1 983.7 L748.6 983.7 L749.1 983.6 L749.5 983.6 L749.6 983.6 L749.6 983.6 L749.7 982.9 L749.8 982.3 L749.8 981.7 L749.9 981.1 L749.9 980.5 L749.9 979.9 L749.9 979.3 L749.8 978.7 L749.8 978.1 L749.7 977.5 L749.6 976.9 L749.5 976.3 L749.3 975.7 L749.2 975.2 L749 974.6 L748.8 974.1 L748.8 974 L748.7 974 L748.3 974.2 L747.8 974.4 L747.4 974.5 L746.9 974.7 L746.4 974.8 L745.9 974.9 L745.5 975.1 L745 975.2 L744.5 975.2 L744.1 975.3 L743.6 975.4 L743.1 975.4 L742.7 975.5 L742.2 975.5 L741.7 975.5 L741.3 975.5 L740.8 975.5 L740.4 975.5 L739.9 975.5 L739.5 975.4 L739 975.4 L738.6 975.3 L738.2 975.2 L737.8 975.1 L737.4 975 L737 974.9 L736.6 974.8 L736.2 974.6 L735.8 974.5 L735.5 974.3 L735.1 974.1 L734.8 973.9 L734.4 973.7 L734.1 973.5 L733.8 973.3 L733.5 973.1 L733.2 972.9 L733 972.6 L732.7 972.4 L732.4 972.1 L732.2 971.8 L732 971.5 L731.8 971.2 L731.6 970.9 L731.4 970.6 L731.2 970.3 L731.1 970 L731 969.7 L730.8 969.3 L730.7 969 L730.6 968.7 L730.6 968.3 L730.5 968 L730.5 967.6 L730.4 967.2 L730.4 966.9 L730.4 966.5 L730.4 966.1 L730.5 965.8 L730.5 965.4 L730.6 965 L730.7 964.6 L730.8 964.2 L730.9 963.9 L731 963.5 L731.1 963.1 L731.3 962.7 L731.4 962.4 L731.6 962 L731.8 961.6 L732 961.4 L731.4 961.2Z" fill="#fff" stroke="#222" stroke-width="1.6" stroke-linejoin="round"/>
<path d="M692.6 1003.4 L692.7 1003.5 L693.1 1003.9 L693.5 1004.3 L693.9 1004.7 L694.4 1005.1 L694.8 1005.4 L695.3 1005.8 L695.8 1006.1 L696.3 1006.5 L696.8 1006.8 L697.3 1007.1 L697.8 1007.4 L698.1 1007.5 L698.4 1007.2 L698.5 1007.2 L698.8 1006.8 L698.8 1006.8 L699.2 1006.5 L699.2 1006.5 L699.6 1006.2 L699.7 1006.1 L700 1005.8 L700.1 1005.8 L700.5 1005.5 L700.5 1005.5 L700.9 1005.2 L700.9 1005.2 L701.3 1004.9 L701.4 1004.9 L701.8 1004.6 L701.9 1004.6 L702.3 1004.3 L702.3 1004.3 L702.7 1004 L702.8 1004 L703.2 1003.8 L703.3 1003.7 L703.7 1003.5 L703.8 1003.5 L704.2 1003.3 L704.3 1003.3 L704.7 1003.1 L704.8 1003 L705.2 1002.8 L705.3 1002.8 L705.7 1002.6 L705.8 1002.6 L706.2 1002.4 L706.3 1002.4 L706.8 1002.3 L706.8 1002.2 L707.3 1002.1 L707.3 1002.1 L707.8 1001.9 L707.9 1001.9 L708.3 1001.8 L708.4 1001.8 L708.9 1001.7 L708.9 1001.7 L709.4 1001.6 L709.4 1001.5 L709.9 1001.5 L710 1001.4 L710.4 1001.4 L710.5 1001.4 L711 1001.3 L711 1001.3 L711.5 1001.2 L711.5 1001.2 L712 1001.2 L712.1 1001.2 L712.5 1001.2 L712.6 1001.2 L713 1001.1 L713.1 1001.1 L713.6 1001.1 L713.6 1001.1 L714.1 1001.1 L714.1 1001.1 L714.6 1001.2 L714.6 1001.2 L715.1 1001.2 L715.1 1001.2 L715.6 1001.3 L715.6 1001.3 L716.1 1001.3 L716.1 1001.3 L716.5 1001.4 L716.6 1001.4 L717 1001.5 L717.1 1001.5 L717.5 1001.6 L717.5 1001.6 L717.9 1001.7 L718 1001.7 L718.4 1001.8 L718.4 1001.9 L718.8 1002 L718.9 1002 L719.2 1002.1 L719.3 1002.2 L719.7 1002.3 L719.7 1002.3 L720.1 1002.5 L720.1 1002.5 L720.5 1002.7 L720.5 1002.7 L720.9 1002.9 L720.9 1002.9 L721.2 1003.1 L721.3 1003.1 L721.6 1003.4 L721.6 1003.4 L721.9 1003.6 L722 1003.6 L722.3 1003.9 L722.3 1003.9 L722.6 1004.1 L722.6 1004.1 L722.9 1004.4 L722.9 1004.4 L723.2 1004.7 L723.2 1004.7 L723.5 1005 L723.5 1005 L723.7 1005.3 L723.8 1005.3 L724 1005.6 L724 1005.6 L724.2 1005.9 L724.2 1006 L724.4 1006.3 L724.4 1006.3 L724.6 1006.6 L724.6 1006.6 L724.8 1007 L724.8 1007 L725 1007.3 L725 1007.4 L725.1 1007.7 L725.1 1007.7 L725.1 1007.7 L725.9 1007.4 L726.6 1007.2 L727.3 1006.9 L728 1006.5 L728.7 1006.2 L729.3 1005.9 L730 1005.5 L730.7 1005.2 L731.4 1004.8 L732 1004.4 L732.7 1004 L733.1 1003.7 L733 1003.6 L733 1003.6 L732.8 1003.3 L732.8 1003.3 L732.6 1003 L732.6 1002.9 L732.4 1002.6 L732.4 1002.6 L732.2 1002.3 L732.2 1002.2 L732 1001.9 L732 1001.9 L731.9 1001.6 L731.9 1001.5 L731.7 1001.2 L731.7 1001.2 L731.6 1000.8 L731.6 1000.8 L731.5 1000.4 L731.5 1000.4 L731.4 1000 L731.4 1000 L731.4 999.6 L731.4 999.6 L731.3 999.2 L731.3 999.2 L731.3 998.8 L731.3 998.8 L731.3 998.4 L731.3 998.4 L731.3 998 L731.3 998 L731.3 997.6 L731.3 997.6 L731.3 997.2 L731.3 997.1 L731.4 996.8 L731.4 996.7 L731.4 996.3 L731.4 996.3 L731.5 995.9 L731.5 995.9 L731.6 995.5 L731.6 995.4 L731.7 995.1 L731.8 995 L731.9 994.6 L731.9 994.6 L732 994.2 L732.1 994.2 L732.2 993.8 L732.2 993.7 L732.4 993.4 L732.4 993.3 L732.6 993 L732.6 992.9 L732.8 992.5 L732.8 992.5 L733.1 992.1 L733.1 992.1 L733.3 991.7 L733.3 991.7 L733.6 991.3 L733.6 991.3 L733.8 990.9 L733.9 990.9 L734.1 990.5 L734.2 990.5 L734.4 990.1 L734.5 990.1 L734.8 989.7 L734.8 989.7 L735.1 989.3 L735.1 989.3 L735.5 989 L735.5 988.9 L735.8 988.6 L735.9 988.5 L736.2 988.2 L736.2 988.2 L736.6 987.9 L736.6 987.8 L737 987.5 L737 987.5 L737.4 987.2 L737.4 987.1 L737.8 986.8 L737.8 986.8 L738.2 986.5 L738.3 986.5 L738.7 986.2 L738.7 986.2 L739.1 985.9 L739.2 985.9 L739.6 985.6 L739.6 985.6 L740 985.3 L740.1 985.3 L740.5 985.1 L740.6 985 L741 984.8 L741 984.8 L741.5 984.5 L741.5 984.5 L742 984.3 L742 984.3 L742.5 984.1 L742.5 984.1 L743 983.9 L743 983.8 L743.5 983.7 L743.5 983.6 L744 983.5 L744.1 983.4 L744.5 983.3 L744.6 983.3 L745 983.1 L745.1 983.1 L745.6 983 L745.6 982.9 L746.1 982.8 L746.2 982.8 L746.6 982.7 L746.7 982.7 L747.1 982.6 L747.2 982.6 L747.7 982.5 L747.7 982.5 L748.1 982.4 L748.1 982 L748.1 981.4 L748.1 980.8 L748.1 980.2 L748.1 979.6 L748.1 979.1 L748 978.5 L748 978 L747.9 977.4 L747.8 976.9 L747.6 976.3 L747.5 975.8 L747.2 976 L747.1 976 L746.6 976.1 L746.6 976.1 L746.1 976.3 L746.1 976.3 L745.6 976.4 L745.5 976.4 L745.1 976.5 L745 976.5 L744.5 976.6 L744.5 976.6 L744 976.7 L743.9 976.7 L743.5 976.8 L743.4 976.8 L743 976.8 L742.9 976.8 L742.4 976.9 L742.4 976.9 L741.9 976.9 L741.9 976.9 L741.4 976.9 L741.3 976.9 L740.9 976.9 L740.8 976.9 L740.4 976.9 L740.3 976.9 L739.9 976.9 L739.8 976.9 L739.4 976.9 L739.3 976.9 L738.9 976.8 L738.8 976.8 L738.4 976.7 L738.3 976.7 L737.9 976.7 L737.9 976.7 L737.4 976.6 L737.4 976.6 L737 976.5 L736.9 976.5 L736.5 976.3 L736.5 976.3 L736.1 976.2 L736 976.2 L735.6 976.1 L735.6 976.1 L735.2 975.9 L735.1 975.9 L734.8 975.7 L734.7 975.7 L734.4 975.6 L734.3 975.5 L734 975.4 L733.9 975.3 L733.6 975.2 L733.5 975.1 L733.2 974.9 L733.2 974.9 L732.9 974.7 L732.8 974.7 L732.5 974.5 L732.5 974.4 L732.2 974.2 L732.1 974.2 L731.9 973.9 L731.8 973.9 L731.5 973.7 L731.5 973.6 L731.3 973.4 L731.2 973.3 L731 973.1 L730.9 973 L730.7 972.8 L730.7 972.7 L730.5 972.5 L730.4 972.4 L730.2 972.1 L730.2 972.1 L730 971.8 L730 971.8 L729.8 971.5 L729.8 971.4 L729.6 971.1 L729.6 971.1 L729.5 970.7 L729.4 970.7 L729.3 970.4 L729.3 970.3 L729.2 970 L729.2 970 L729.1 969.6 L729 969.6 L728.9 969.2 L728.9 969.2 L728.9 968.9 L728.9 968.8 L728.8 968.5 L728.8 968.4 L728.7 968.1 L728.7 968 L728.7 967.7 L728.7 967.6 L728.7 967.2 L728.7 967.2 L728.7 966.8 L728.7 966.8 L728.7 966.4 L728.7 966.4 L728.8 966 L728.8 966 L728.8 965.6 L728.8 965.5 L728.9 965.2 L728.9 965.1 L729 964.7 L729 964.7 L729.1 964.3 L729.1 964.3 L729.2 963.9 L729.2 963.8 L729.3 963.5 L729.3 963.4 L729.5 963 L729.5 963 L729.6 962.6 L729.7 962.6 L729.7 962.5 L729.3 962.4 L728.6 962.4 L727.9 962.3 L727.2 962.2 L726.5 962.2 L725.8 962.2 L725.1 962.2 L724.4 962.2 L723.7 962.2 L722.9 962.3 L722.2 962.3 L721.5 962.4 L721.4 962.4 L721.4 962.4 L721.4 962.5 L721.3 962.9 L721.3 962.9 L721.2 963.3 L721.2 963.3 L721.1 963.7 L721.1 963.8 L721 964.1 L721 964.2 L720.8 964.6 L720.8 964.6 L720.6 965 L720.6 965 L720.5 965.4 L720.4 965.5 L720.3 965.8 L720.2 965.9 L720 966.3 L720 966.3 L719.8 966.7 L719.8 966.7 L719.6 967.1 L719.5 967.1 L719.3 967.5 L719.3 967.5 L719 967.9 L719 967.9 L718.7 968.3 L718.7 968.3 L718.4 968.7 L718.4 968.7 L718.1 969.1 L718 969.1 L717.7 969.5 L717.7 969.5 L717.4 969.8 L717.4 969.9 L717 970.2 L717 970.2 L716.7 970.6 L716.6 970.6 L716.3 970.9 L716.2 971 L715.9 971.3 L715.8 971.3 L715.5 971.6 L715.4 971.6 L715.1 971.9 L715 972 L714.6 972.3 L714.6 972.3 L714.2 972.6 L714.1 972.6 L713.7 972.9 L713.7 972.9 L713.3 973.2 L713.2 973.2 L712.8 973.5 L712.8 973.5 L712.3 973.7 L712.3 973.8 L711.9 974 L711.8 974 L711.4 974.2 L711.3 974.3 L710.9 974.5 L710.8 974.5 L710.4 974.7 L710.3 974.7 L709.9 974.9 L709.8 974.9 L709.4 975.1 L709.3 975.2 L708.8 975.3 L708.8 975.3 L708.3 975.5 L708.3 975.5 L707.8 975.7 L707.8 975.7 L707.3 975.8 L707.2 975.8 L706.8 976 L706.7 976 L706.2 976.1 L706.2 976.1 L705.7 976.2 L705.6 976.2 L705.2 976.3 L705.1 976.3 L704.7 976.4 L704.6 976.4 L704.1 976.5 L704.1 976.5 L703.6 976.5 L703.5 976.5 L703.1 976.6 L703 976.6 L702.6 976.6 L702.5 976.6 L702 976.6 L702 976.6 L701.5 976.6 L701.5 976.6 L701 976.6 L701 976.6 L700.5 976.6 L700.5 976.6 L700 976.6 L700 976.6 L699.5 976.5 L699.5 976.5 L699 976.5 L699 976.4 L698.5 976.4 L698.5 976.4 L698.1 976.3 L698 976.3 L697.6 976.2 L697.6 976.2 L697.2 976.1 L697.1 976 L696.7 975.9 L696.7 975.9 L696.3 975.8 L696.2 975.8 L695.8 975.6 L695.8 975.6 L695.5 975.5 L695.3 975.7 L694.8 976.2 L694.4 976.7 L693.9 977.3 L693.5 977.8 L693.1 978.4 L692.7 979 L692.3 979.5 L692 980.1 L691.6 980.7 L691.3 981.2 L691 981.8 L690.9 982 L691.1 982 L691.2 982 L691.6 982.1 L691.6 982.2 L692 982.3 L692.1 982.3 L692.5 982.4 L692.5 982.4 L692.9 982.5 L693 982.6 L693.3 982.7 L693.4 982.7 L693.8 982.9 L693.8 982.9 L694.2 983 L694.2 983.1 L694.6 983.2 L694.6 983.3 L694.9 983.5 L695 983.5 L695.3 983.7 L695.4 983.7 L695.7 983.9 L695.7 983.9 L696 984.1 L696.1 984.2 L696.4 984.4 L696.4 984.4 L696.7 984.7 L696.7 984.7 L697 984.9 L697 985 L697.3 985.2 L697.3 985.3 L697.6 985.5 L697.6 985.6 L697.8 985.8 L697.8 985.9 L698.1 986.1 L698.1 986.2 L698.3 986.5 L698.3 986.5 L698.5 986.8 L698.5 986.8 L698.7 987.2 L698.7 987.2 L698.9 987.5 L698.9 987.5 L699.1 987.9 L699.1 987.9 L699.2 988.2 L699.2 988.3 L699.4 988.6 L699.4 988.6 L699.5 989 L699.5 989 L699.6 989.4 L699.6 989.4 L699.7 989.8 L699.7 989.8 L699.7 990.1 L699.7 990.2 L699.8 990.5 L699.8 990.6 L699.8 991 L699.8 991 L699.8 991.4 L699.8 991.4 L699.8 991.8 L699.8 991.8 L699.8 992.2 L699.8 992.2 L699.8 992.6 L699.8 992.7 L699.7 993 L699.7 993.1 L699.7 993.5 L699.6 993.5 L699.6 993.9 L699.6 993.9 L699.5 994.3 L699.5 994.3 L699.3 994.7 L699.3 994.8 L699.2 995.1 L699.2 995.2 L699.1 995.6 L699 995.6 L698.9 996 L698.9 996 L698.7 996.4 L698.7 996.5 L698.5 996.8 L698.5 996.9 L698.3 997.3 L698.3 997.3 L698 997.7 L698 997.7 L697.8 998.1 L697.8 998.1 L697.5 998.5 L697.5 998.5 L697.2 998.9 L697.2 998.9 L697 999.3 L696.9 999.3 L696.6 999.7 L696.6 999.7 L696.3 1000.1 L696.3 1000.1 L696 1000.5 L696 1000.5 L695.6 1000.8 L695.6 1000.9 L695.3 1001.2 L695.2 1001.2 L694.9 1001.6 L694.9 1001.6 L694.5 1001.9 L694.5 1002 L694.1 1002.3 L694.1 1002.3 L693.7 1002.6 L693.7 1002.6 L693.3 1002.9 L693.2 1003 L692.9 1003.3 L692.8 1003.3 L692.6 1003.4Z" fill="none" stroke="#666" stroke-width="1"/>
<ellipse cx="718.2" cy="986.3" rx="21" ry="15" transform="rotate(-23.8 718.2 986.3)" fill="#fff" stroke="#222" stroke-width="1.4"/>
<ellipse cx="716.9" cy="983.4" rx="21" ry="15" transform="rotate(-23.8 716.9 983.4)" fill="none" stroke="#333" stroke-width="1.2"/>
<polygon points="734.2,970.5 737.4,977.8 699,994.8 695.8,987.5" fill="#fff" stroke="none"/>
<path d="M734.2 970.5 L737.4 977.8 M699 994.8 L695.8 987.5" stroke="#222" stroke-width="1.4"/>
<ellipse cx="715" cy="979" rx="21" ry="15" transform="rotate(-23.8 715 979)" fill="#fff" stroke="#222" stroke-width="1.6"/>
<path d="M652.3 891 L652.3 928.7 Q659 930 666.7 927.3 L678.5 899 Q679 895 675 893.5 Q664 889.5 652.3 891 Z" fill="#fff" stroke="#222" stroke-width="1.6"/>
<path d="M653.5 893.5 Q664 892 674 896" fill="none" stroke="#444" stroke-width="1.1"/>
<path d="M654.5 893 V927" stroke="#444" stroke-width="1.1" stroke-dasharray="1.5 1.2"/>
<ellipse cx="662" cy="904" rx="2.4" ry="3.3" fill="#fff" stroke="#111" stroke-width="2.2"/>
<path d="M672.7 879.3 Q682 884 682.7 897.3" stroke="#222" stroke-width="1.8" fill="none"/>
<g transform="translate(399.5 884) rotate(113.1)">
<path d="M0 -6.3 L80.4 -6.3 Q83.4 0 80.4 6.3 L0 6.3 Z" fill="#fff" stroke="#222" stroke-width="1.4"/>
<path d="M24.1 -5.6 H79.9 Q82.6 0 79.9 5.6 H24.1 Z" fill="#b5b5b5" stroke="none"/>
<path d="M24.1 -6.3 Q26.6 0 24.1 6.3" stroke="#222" stroke-width="1.4" fill="none"/>
<path d="M27.4 -5.3 Q29.7 0 27.4 5.3 M31.6 -5.3 Q33.9 0 31.6 5.3 M35.8 -5.3 Q38.1 0 35.8 5.3 M40 -5.3 Q42.3 0 40 5.3 M44.2 -5.3 Q46.5 0 44.2 5.3 M48.4 -5.3 Q50.7 0 48.4 5.3 M52.6 -5.3 Q54.9 0 52.6 5.3 M56.8 -5.3 Q59.1 0 56.8 5.3 M61 -5.3 Q63.3 0 61 5.3 M65.2 -5.3 Q67.5 0 65.2 5.3 M69.4 -5.3 Q71.7 0 69.4 5.3 M73.6 -5.3 Q75.9 0 73.6 5.3 M77.8 -5.3 Q80.1 0 77.8 5.3 " stroke="#f4f4f4" stroke-width="1.8" fill="none"/>
<path d="M25.3 -5.8 Q27.8 0 25.3 5.8 M29.5 -5.8 Q32 0 29.5 5.8 M33.7 -5.8 Q36.2 0 33.7 5.8 M37.9 -5.8 Q40.4 0 37.9 5.8 M42.1 -5.8 Q44.6 0 42.1 5.8 M46.3 -5.8 Q48.8 0 46.3 5.8 M50.5 -5.8 Q53 0 50.5 5.8 M54.7 -5.8 Q57.2 0 54.7 5.8 M58.9 -5.8 Q61.4 0 58.9 5.8 M63.1 -5.8 Q65.6 0 63.1 5.8 M67.3 -5.8 Q69.8 0 67.3 5.8 M71.5 -5.8 Q74 0 71.5 5.8 M75.7 -5.8 Q78.2 0 75.7 5.8 " stroke="#333" stroke-width="1.3" fill="none"/>
<path d="M0 -6.3 L80.4 -6.3 M0 6.3 L80.4 6.3" stroke="#222" stroke-width="1.6"/>
</g>
<path d="M335.9 947.1 L330.1 960.9 L330.3 961 L330.7 961.3 L331 961.6 L331.4 961.9 L331.7 962.2 L332.1 962.5 L332.4 962.8 L332.7 963.2 L333 963.5 L333.3 963.8 L333.6 964.2 L333.9 964.5 L334.2 964.9 L334.4 965.2 L334.6 965.5 L334.2 965.6 L333.8 965.6 L333.4 965.7 L332.9 965.7 L332.5 965.8 L332 965.8 L332 965.8 L326.2 979.6 L326.3 979.9 L326.6 980.5 L326.8 981.1 L327.1 981.7 L327.4 982.3 L327.7 982.8 L328 983.4 L328.3 984 L328.7 984.6 L329.1 985.2 L329.4 985.7 L329.8 986.3 L330.3 986.9 L330.7 987.4 L331.1 988 L331.6 988.5 L331.7 988.6 L332 988.4 L332.4 988.3 L332.8 988.2 L333.2 988.1 L333.6 988 L334 987.9 L334.5 987.8 L334.9 987.8 L335.3 987.7 L335.8 987.7 L336.2 987.7 L336.7 987.6 L337.1 987.6 L337.6 987.7 L338.1 987.7 L338.5 987.7 L339 987.8 L339.5 987.8 L339.9 987.9 L340.4 988 L340.9 988.1 L341.3 988.2 L341.8 988.3 L342.3 988.5 L342.7 988.6 L343.2 988.7 L343.7 988.9 L344.1 989.1 L344.6 989.3 L345 989.5 L345.5 989.7 L345.9 989.9 L346.4 990.1 L346.8 990.4 L347.2 990.6 L347.6 990.9 L348 991.1 L348.4 991.4 L348.8 991.7 L349.2 991.9 L349.6 992.2 L349.9 992.5 L350.3 992.9 L350.6 993.2 L350.9 993.5 L351.3 993.8 L351.6 994.1 L351.9 994.5 L352.2 994.8 L352.4 995.2 L352.7 995.5 L352.9 995.9 L353.2 996.2 L353.4 996.6 L353.6 997 L353.8 997.3 L353.9 997.7 L354.1 998.1 L354.3 998.4 L354.4 998.8 L354.5 999.2 L354.6 999.5 L354.7 999.9 L354.8 1000.3 L354.8 1000.6 L354.9 1001 L354.9 1001.4 L354.9 1001.7 L354.9 1002 L355.2 1002 L355.9 1002.2 L356.7 1002.3 L357.4 1002.4 L358.2 1002.5 L358.9 1002.6 L359.7 1002.7 L360.4 1002.8 L361.2 1002.8 L361.9 1002.9 L362.6 1002.9 L363.4 1002.9 L364.1 1002.9 L364.8 1002.9 L365.5 1002.8 L366.3 1002.8 L366.5 1002.8 L371.3 991.3 L371.6 991.2 L371.9 991.1 L372.3 991 L372.7 990.9 L373.2 990.8 L373.6 990.7 L374 990.6 L374.4 990.6 L374.9 990.5 L375.3 990.5 L375.8 990.5 L376.2 990.4 L376.7 990.4 L377.1 990.5 L377.6 990.5 L378.1 990.5 L378.5 990.6 L379 990.6 L379.5 990.7 L379.9 990.8 L380.4 990.9 L380.9 991 L381.3 991.1 L381.8 991.2 L382.3 991.4 L382.7 991.5 L383.2 991.7 L383.7 991.9 L384.1 992.1 L384.6 992.3 L384.7 992.3 L384.7 992.2 L385 991.8 L385.2 991.3 L391 977.5 L391.2 976.9 L391.4 976.4 L391.5 975.9 L391.7 975.4 L391.8 974.8 L391.9 974.3 L392 973.7 L392.1 973.2 L392.2 972.6 L392.2 972.1 L392.2 971.5 L392.2 970.9 L392.2 970.4 L392.2 970.1 L391.8 970 L391.4 969.9 L390.9 969.8 L390.4 969.7 L390 969.5 L389.5 969.4 L389 969.2 L388.6 969.1 L388.1 968.9 L387.7 968.7 L387.2 968.5 L386.8 968.3 L386.3 968.1 L385.9 967.9 L385.5 967.6 L385 967.4 L384.6 967.1 L384.2 966.9 L383.8 966.6 L383.4 966.3 L383 966 L382.7 965.7 L382.3 965.4 L382 965.1 L381.6 964.8 L381.3 964.5 L381 964.2 L380.7 963.8 L380.4 963.5 L380.1 963.2 L379.8 962.8 L379.6 962.5 L379.3 962.1 L379.1 961.7 L378.9 961.4 L378.7 961 L378.5 960.7 L378.3 960.3 L378.1 959.9 L378 959.6 L377.8 959.2 L377.7 958.8 L377.6 958.4 L377.5 958.1 L377.5 957.7 L377.4 957.3 L377.4 957 L377.4 957 L380.2 950.2 L379.6 949.8 L379 949.3 L378.4 948.9 L377.8 948.4 L377.1 948 L376.5 947.6 L375.8 947.2 L375.1 946.8 L374.4 946.4 L373.8 946 L373.1 945.7 L372.4 945.3 L371.7 945 L370.9 944.7 L370.2 944.4 L369.7 944.2 L369.7 944.3 L369.5 944.5 L369.4 944.8 L369.2 945.1 L369 945.4 L368.8 945.7 L368.6 946 L368.4 946.3 L368.1 946.5 L367.9 946.8 L367.6 947 L367.3 947.2 L367.1 947.5 L366.8 947.7 L366.4 947.9 L366.1 948.1 L365.8 948.3 L365.4 948.4 L365.1 948.6 L364.7 948.7 L364.3 948.9 L363.9 949 L363.6 949.1 L363.1 949.2 L362.7 949.3 L362.3 949.4 L361.9 949.5 L361.5 949.5 L361 949.6 L360.6 949.6 L360.1 949.7 L359.7 949.7 L359.2 949.7 L358.8 949.7 L358.3 949.6 L357.8 949.6 L357.4 949.5 L356.9 949.5 L356.4 949.4 L356 949.3 L355.5 949.2 L355 949.1 L354.5 949 L354.1 948.9 L353.6 948.7 L353.1 948.6 L352.7 948.4 L352.2 948.2 L351.8 948 L351.3 947.8 L350.9 947.6 L350.4 947.4 L350 947.2 L349.6 947 L349.2 946.7 L348.7 946.5 L348.3 946.2 L347.9 945.9 L347.5 945.7 L347.2 945.4 L346.8 945.1 L346.4 944.8 L346.1 944.5 L345.7 944.1 L345.4 943.8 L345.1 943.5 L344.8 943.2 L344.5 942.8 L344.2 942.5 L344.1 942.3 L343.6 942.5 L343 942.7 L342.4 942.9 L341.8 943.2 L341.3 943.4 L340.7 943.7 L340.1 944 L339.6 944.3 L339.1 944.6 L338.6 944.9 L338.1 945.3 L337.6 945.6 L337.1 946 L336.7 946.3 L336.2 946.7 L335.9 947.1Z" fill="#fff" stroke="#222" stroke-width="1.6" stroke-linejoin="round"/>
<path d="M360.7 988.2 L354.9 1002 M337.5 974.8 L331.7 988.6 M332 965.8 L326.2 979.6 M335.9 947.1 L330.1 960.9 M344.1 942.3 L343.9 942.7 M340.4 951.2 L338.3 956.1 M369.7 944.1 L368.9 946.2 M380.2 950.2 L377.1 957.5 M392.2 970.1 L391.9 970.7 M389 977.6 L386.4 983.9 M390.5 978.5 L384.7 992.3 M372.3 989 L366.5 1002.8 " stroke="#222" stroke-width="1.3" fill="none"/>
<path d="M391.2 976.9 L391.4 976.4 L391.5 975.9 L391.7 975.4 L391.8 974.8 L391.9 974.3 L392 973.7 L392.1 973.2 L392.2 972.6 L392.2 972.1 L392.2 971.5 L392.2 970.9 L392.2 970.4 L392.2 970.1 L391.8 970 L391.4 969.9 L390.9 969.8 L390.4 969.7 L390 969.5 L389.5 969.4 L389 969.2 L388.6 969.1 L388.1 968.9 L387.7 968.7 L387.2 968.5 L386.8 968.3 L386.3 968.1 L385.9 967.9 L385.5 967.6 L385 967.4 L384.6 967.1 L384.2 966.9 L383.8 966.6 L383.4 966.3 L383 966 L382.7 965.7 L382.3 965.4 L382 965.1 L381.6 964.8 L381.3 964.5 L381 964.2 L380.7 963.8 L380.4 963.5 L380.1 963.2 L379.8 962.8 L379.6 962.5 L379.3 962.1 L379.1 961.7 L378.9 961.4 L378.7 961 L378.5 960.7 L378.3 960.3 L378.1 959.9 L378 959.6 L377.8 959.2 L377.7 958.8 L377.6 958.4 L377.5 958.1 L377.5 957.7 L377.4 957.3 L377.4 957 L377.3 956.6 L377.3 956.3 L377.3 955.9 L377.4 955.5 L377.4 955.2 L377.4 954.9 L377.5 954.5 L377.6 954.2 L377.7 953.8 L377.8 953.5 L377.9 953.2 L378.1 952.9 L378.2 952.6 L378.4 952.3 L378.6 952 L378.8 951.7 L379 951.4 L379.2 951.2 L379.5 950.9 L379.7 950.6 L380 950.4 L380.2 950.2 L379.6 949.8 L379 949.3 L378.4 948.9 L377.8 948.4 L377.1 948 L376.5 947.6 L375.8 947.2 L375.1 946.8 L374.4 946.4 L373.8 946 L373.1 945.7 L372.4 945.3 L371.7 945 L370.9 944.7 L370.2 944.4 L369.7 944.2 L369.7 944.2 L369.5 944.5 L369.4 944.8 L369.2 945.1 L369 945.4 L368.8 945.7 L368.6 946 L368.4 946.3 L368.1 946.5 L367.9 946.8 L367.6 947 L367.3 947.2 L367.1 947.5 L366.8 947.7 L366.4 947.9 L366.1 948.1 L365.8 948.3 L365.4 948.4 L365.1 948.6 L364.7 948.7 L364.3 948.9 L363.9 949 L363.6 949.1 L363.1 949.2 L362.7 949.3 L362.3 949.4 L361.9 949.5 L361.5 949.5 L361 949.6 L360.6 949.6 L360.1 949.7 L359.7 949.7 L359.2 949.7 L358.8 949.7 L358.3 949.6 L357.8 949.6 L357.4 949.5 L356.9 949.5 L356.4 949.4 L356 949.3 L355.5 949.2 L355 949.1 L354.5 949 L354.1 948.9 L353.6 948.7 L353.1 948.6 L352.7 948.4 L352.2 948.2 L351.8 948 L351.3 947.8 L350.9 947.6 L350.4 947.4 L350 947.2 L349.6 947 L349.2 946.7 L348.7 946.5 L348.3 946.2 L347.9 945.9 L347.5 945.7 L347.2 945.4 L346.8 945.1 L346.4 944.8 L346.1 944.5 L345.7 944.1 L345.4 943.8 L345.1 943.5 L344.8 943.2 L344.5 942.8 L344.2 942.5 L344.1 942.3 L343.6 942.5 L343 942.7 L342.4 942.9 L341.8 943.2 L341.3 943.4 L340.7 943.7 L340.1 944 L339.6 944.3 L339.1 944.6 L338.6 944.9 L338.1 945.3 L337.6 945.6 L337.1 946 L336.7 946.3 L336.2 946.7 L335.9 947.1 L336.1 947.2 L336.5 947.5 L336.8 947.8 L337.2 948.1 L337.5 948.4 L337.9 948.7 L338.2 949 L338.5 949.4 L338.8 949.7 L339.1 950 L339.4 950.4 L339.7 950.7 L340 951.1 L340.2 951.4 L340.4 951.8 L340.6 952.2 L340.9 952.5 L341 952.9 L341.2 953.2 L341.4 953.6 L341.5 954 L341.7 954.4 L341.8 954.7 L341.9 955.1 L342 955.5 L342 955.8 L342.1 956.2 L342.1 956.6 L342.2 956.9 L342.2 957.3 L342.2 957.6 L342.2 958 L342.1 958.3 L342.1 958.7 L342 959 L341.9 959.4 L341.8 959.7 L341.7 960 L341.6 960.3 L341.4 960.7 L341.3 961 L341.1 961.3 L340.9 961.6 L340.7 961.8 L340.5 962.1 L340.3 962.4 L340.1 962.6 L339.8 962.9 L339.5 963.1 L339.3 963.4 L339 963.6 L338.7 963.8 L338.4 964 L338 964.2 L337.7 964.4 L337.3 964.6 L337 964.7 L336.6 964.9 L336.2 965 L335.9 965.2 L335.5 965.3 L335.1 965.4 L334.7 965.5 L334.2 965.6 L333.8 965.6 L333.4 965.7 L332.9 965.7 L332.5 965.8 L332 965.8 L332 965.8 L332.1 966.1 L332.4 966.7 L332.6 967.3 L332.9 967.9 L333.2 968.5 L333.5 969 L333.8 969.6 L334.1 970.2 L334.5 970.8 L334.9 971.4 L335.2 971.9 L335.6 972.5 L336.1 973.1 L336.5 973.6 L336.9 974.2 L337.4 974.7 L337.5 974.8 L337.8 974.6 L338.2 974.5 L338.6 974.4 L339 974.3 L339.4 974.2 L339.8 974.1 L340.3 974 L340.7 974 L341.1 973.9 L341.6 973.9 L342 973.9 L342.5 973.8 L342.9 973.8 L343.4 973.9 L343.9 973.9 L344.3 973.9 L344.8 974 L345.3 974 L345.7 974.1 L346.2 974.2 L346.7 974.3 L347.1 974.4 L347.6 974.5 L348.1 974.7 L348.5 974.8 L349 974.9 L349.5 975.1 L349.9 975.3 L350.4 975.5 L350.8 975.7 L351.3 975.9 L351.7 976.1 L352.2 976.3 L352.6 976.6 L353 976.8 L353.4 977.1 L353.8 977.3 L354.2 977.6 L354.6 977.9 L355 978.1 L355.4 978.4 L355.7 978.7 L356.1 979.1 L356.4 979.4 L356.7 979.7 L357.1 980 L357.4 980.3 L357.7 980.7 L358 981 L358.2 981.4 L358.5 981.7 L358.7 982.1 L359 982.4 L359.2 982.8 L359.4 983.2 L359.6 983.5 L359.7 983.9 L359.9 984.3 L360.1 984.6 L360.2 985 L360.3 985.4 L360.4 985.7 L360.5 986.1 L360.6 986.5 L360.6 986.8 L360.7 987.2 L360.7 987.6 L360.7 987.9 L360.7 988.2 L361 988.2 L361.7 988.4 L362.5 988.5 L363.2 988.6 L364 988.7 L364.7 988.8 L365.5 988.9 L366.2 989 L367 989 L367.7 989.1 L368.4 989.1 L369.2 989.1 L369.9 989.1 L370.6 989.1 L371.3 989 L372.1 989 L372.3 989 L372.2 988.8 L372.1 988.5 L371.9 988.1 L371.8 987.7 L371.7 987.4 L371.6 987 L371.6 986.6 L371.5 986.3 L371.5 985.9 L371.4 985.5 L371.4 985.2 L371.4 984.8 L371.4 984.5 L371.5 984.1 L371.5 983.8 L371.6 983.4 L371.7 983.1 L371.8 982.8 L371.9 982.4 L372 982.1 L372.2 981.8 L372.3 981.5 L372.5 981.2 L372.7 980.9 L372.9 980.6 L373.1 980.3 L373.3 980.1 L373.5 979.8 L373.8 979.6 L374.1 979.3 L374.3 979.1 L374.6 978.8 L374.9 978.6 L375.2 978.4 L375.6 978.2 L375.9 978.1 L376.3 977.9 L376.6 977.7 L377 977.6 L377.4 977.4 L377.7 977.3 L378.1 977.2 L378.5 977.1 L379 977 L379.4 976.9 L379.8 976.8 L380.2 976.8 L380.7 976.7 L381.1 976.7 L381.6 976.7 L382 976.6 L382.5 976.6 L382.9 976.7 L383.4 976.7 L383.9 976.7 L384.3 976.8 L384.8 976.8 L385.3 976.9 L385.7 977 L386.2 977.1 L386.7 977.2 L387.1 977.3 L387.6 977.4 L388.1 977.6 L388.5 977.7 L389 977.9 L389.5 978.1 L389.9 978.3 L390.4 978.5 L390.5 978.5 L390.5 978.4 L390.8 978 L391 977.5 L391.2 976.9Z" fill="#fff" stroke="#222" stroke-width="1.6" stroke-linejoin="round"/>
<path d="M338.2 947.3 L338.3 947.3 L338.3 947.4 L338.7 947.7 L338.7 947.7 L339.1 948 L339.1 948.1 L339.5 948.4 L339.5 948.4 L339.8 948.7 L339.8 948.8 L340.2 949.1 L340.2 949.2 L340.5 949.5 L340.5 949.5 L340.8 949.9 L340.8 949.9 L341.1 950.3 L341.1 950.3 L341.4 950.7 L341.4 950.7 L341.7 951 L341.7 951.1 L341.9 951.4 L342 951.5 L342.2 951.9 L342.2 951.9 L342.4 952.3 L342.4 952.3 L342.6 952.7 L342.6 952.7 L342.8 953.1 L342.8 953.1 L343 953.5 L343 953.5 L343.2 953.9 L343.2 953.9 L343.3 954.3 L343.3 954.4 L343.5 954.7 L343.5 954.8 L343.6 955.1 L343.6 955.2 L343.7 955.6 L343.7 955.6 L343.8 956 L343.8 956 L343.8 956.4 L343.8 956.4 L343.9 956.8 L343.9 956.8 L343.9 957.2 L343.9 957.2 L343.9 957.6 L343.9 957.6 L343.9 958 L343.9 958 L343.9 958.4 L343.9 958.4 L343.8 958.8 L343.8 958.8 L343.8 959.2 L343.8 959.2 L343.7 959.6 L343.7 959.6 L343.6 959.9 L343.6 960 L343.5 960.3 L343.5 960.3 L343.4 960.7 L343.4 960.7 L343.3 961 L343.2 961.1 L343.1 961.4 L343.1 961.4 L342.9 961.7 L342.9 961.8 L342.7 962.1 L342.7 962.1 L342.5 962.4 L342.5 962.4 L342.3 962.7 L342.3 962.7 L342.1 963 L342 963 L341.8 963.3 L341.8 963.3 L341.5 963.6 L341.5 963.6 L341.3 963.9 L341.2 963.9 L341 964.2 L340.9 964.2 L340.7 964.4 L340.6 964.5 L340.3 964.7 L340.3 964.7 L340 964.9 L340 964.9 L339.6 965.1 L339.6 965.2 L339.3 965.4 L339.2 965.4 L338.9 965.6 L338.9 965.6 L338.5 965.8 L338.5 965.8 L338.1 966 L338.1 966 L337.7 966.1 L337.7 966.1 L337.3 966.3 L337.2 966.3 L336.9 966.4 L336.8 966.4 L336.4 966.6 L336.4 966.6 L336 966.7 L335.9 966.7 L335.5 966.8 L335.5 966.8 L335 966.9 L335 966.9 L334.6 967 L334.5 967 L334.2 967 L334.3 967.2 L334.5 967.7 L334.8 968.3 L335.1 968.8 L335.4 969.4 L335.7 969.9 L336 970.5 L336.4 971 L336.7 971.5 L337.1 972.1 L337.5 972.6 L337.8 973 L338.1 973 L338.2 973 L338.6 972.9 L338.6 972.9 L339 972.8 L339.1 972.8 L339.5 972.7 L339.6 972.7 L340 972.6 L340 972.6 L340.5 972.6 L340.5 972.6 L341 972.5 L341 972.5 L341.5 972.5 L341.5 972.5 L342 972.5 L342 972.5 L342.5 972.5 L342.6 972.5 L343 972.5 L343.1 972.5 L343.5 972.5 L343.6 972.5 L344.1 972.6 L344.1 972.6 L344.6 972.6 L344.6 972.6 L345.1 972.7 L345.2 972.7 L345.6 972.8 L345.7 972.8 L346.2 972.9 L346.2 972.9 L346.7 973 L346.7 973 L347.2 973.1 L347.3 973.1 L347.7 973.2 L347.8 973.3 L348.3 973.4 L348.3 973.4 L348.8 973.5 L348.8 973.6 L349.3 973.7 L349.4 973.7 L349.8 973.9 L349.9 973.9 L350.3 974.1 L350.4 974.1 L350.8 974.3 L350.9 974.3 L351.4 974.5 L351.4 974.5 L351.9 974.8 L351.9 974.8 L352.3 975 L352.4 975 L352.8 975.2 L352.9 975.3 L353.3 975.5 L353.4 975.5 L353.8 975.8 L353.8 975.8 L354.2 976.1 L354.3 976.1 L354.7 976.4 L354.7 976.4 L355.1 976.7 L355.2 976.7 L355.6 977 L355.6 977 L356 977.3 L356.1 977.3 L356.4 977.6 L356.5 977.7 L356.8 978 L356.9 978 L357.2 978.3 L357.3 978.3 L357.6 978.7 L357.6 978.7 L358 979 L358 979.1 L358.3 979.4 L358.4 979.4 L358.7 979.7 L358.7 979.8 L359 980.1 L359 980.2 L359.3 980.5 L359.4 980.6 L359.6 980.9 L359.7 980.9 L359.9 981.3 L360 981.3 L360.2 981.7 L360.2 981.7 L360.5 982.1 L360.5 982.1 L360.7 982.5 L360.7 982.5 L360.9 982.9 L361 982.9 L361.2 983.3 L361.2 983.3 L361.4 983.7 L361.4 983.8 L361.5 984.1 L361.6 984.2 L361.7 984.5 L361.7 984.6 L361.8 985 L361.9 985 L362 985.4 L362 985.4 L362.1 985.8 L362.1 985.8 L362.2 986.2 L362.2 986.2 L362.3 986.6 L362.3 986.7 L362.3 987 L362.4 987.1 L362.4 987.2 L362.4 987.2 L363.1 987.3 L363.8 987.4 L364.5 987.5 L365.3 987.6 L366 987.6 L366.7 987.7 L367.4 987.7 L368.1 987.7 L368.7 987.7 L369.4 987.7 L370.1 987.7 L370.2 987.7 L370.1 987.7 L370 987.3 L370 987.3 L369.9 986.9 L369.9 986.9 L369.9 986.5 L369.8 986.4 L369.8 986.1 L369.8 986 L369.7 985.7 L369.7 985.6 L369.7 985.3 L369.7 985.2 L369.7 984.9 L369.7 984.8 L369.7 984.5 L369.7 984.4 L369.7 984.1 L369.7 984 L369.8 983.7 L369.8 983.6 L369.8 983.3 L369.8 983.2 L369.9 982.9 L369.9 982.9 L370 982.5 L370 982.5 L370.1 982.1 L370.1 982.1 L370.2 981.8 L370.2 981.7 L370.4 981.4 L370.4 981.4 L370.5 981.1 L370.5 981 L370.7 980.7 L370.7 980.7 L370.9 980.4 L370.9 980.4 L371.1 980.1 L371.1 980 L371.3 979.7 L371.3 979.7 L371.5 979.4 L371.6 979.4 L371.8 979.1 L371.8 979.1 L372.1 978.8 L372.1 978.8 L372.3 978.6 L372.4 978.5 L372.6 978.3 L372.7 978.3 L372.9 978 L373 978 L373.3 977.8 L373.3 977.7 L373.6 977.5 L373.6 977.5 L374 977.3 L374 977.3 L374.3 977.1 L374.4 977.1 L374.7 976.9 L374.7 976.9 L375.1 976.7 L375.1 976.7 L375.5 976.5 L375.5 976.5 L375.9 976.3 L375.9 976.3 L376.3 976.2 L376.4 976.2 L376.8 976 L376.8 976 L377.2 975.9 L377.2 975.9 L377.6 975.8 L377.7 975.8 L378.1 975.7 L378.2 975.7 L378.6 975.6 L378.6 975.6 L379 975.5 L379.1 975.5 L379.5 975.4 L379.6 975.4 L380 975.4 L380.1 975.4 L380.5 975.3 L380.6 975.3 L381 975.3 L381.1 975.3 L381.5 975.3 L381.6 975.3 L382 975.3 L382.1 975.3 L382.5 975.3 L382.6 975.3 L383.1 975.3 L383.1 975.3 L383.6 975.4 L383.6 975.4 L384.1 975.4 L384.2 975.4 L384.6 975.5 L384.7 975.5 L385.2 975.6 L385.2 975.6 L385.7 975.7 L385.7 975.7 L386.2 975.8 L386.3 975.8 L386.7 975.9 L386.8 975.9 L387.3 976 L387.3 976.1 L387.8 976.2 L387.9 976.2 L388.3 976.3 L388.4 976.4 L388.8 976.5 L388.9 976.5 L389.3 976.7 L389.5 976.3 L389.7 975.8 L389.8 975.3 L390 974.8 L390.1 974.3 L390.2 973.8 L390.3 973.2 L390.4 972.7 L390.4 972.2 L390.5 971.7 L390.5 971.1 L390.5 971 L390.3 970.9 L390.2 970.9 L389.8 970.8 L389.7 970.8 L389.3 970.6 L389.2 970.6 L388.7 970.5 L388.7 970.4 L388.2 970.3 L388.2 970.3 L387.7 970.1 L387.6 970.1 L387.2 969.9 L387.1 969.9 L386.7 969.7 L386.6 969.6 L386.2 969.4 L386.1 969.4 L385.7 969.2 L385.6 969.2 L385.2 968.9 L385.2 968.9 L384.7 968.7 L384.7 968.6 L384.3 968.4 L384.2 968.4 L383.8 968.1 L383.7 968.1 L383.3 967.8 L383.3 967.8 L382.9 967.5 L382.8 967.5 L382.5 967.2 L382.4 967.2 L382 966.9 L382 966.9 L381.6 966.6 L381.6 966.5 L381.2 966.2 L381.2 966.2 L380.8 965.9 L380.8 965.8 L380.4 965.5 L380.4 965.5 L380.1 965.2 L380 965.1 L379.7 964.8 L379.7 964.8 L379.4 964.4 L379.3 964.4 L379 964.1 L379 964 L378.7 963.7 L378.7 963.6 L378.4 963.3 L378.4 963.2 L378.1 962.9 L378.1 962.8 L377.8 962.5 L377.8 962.5 L377.6 962.1 L377.5 962.1 L377.3 961.7 L377.3 961.6 L377.1 961.3 L377.1 961.2 L376.9 960.9 L376.9 960.8 L376.7 960.5 L376.7 960.4 L376.5 960.1 L376.5 960 L376.3 959.6 L376.3 959.6 L376.2 959.2 L376.2 959.2 L376.1 958.8 L376 958.8 L375.9 958.4 L375.9 958.4 L375.8 958 L375.8 957.9 L375.8 957.6 L375.8 957.5 L375.7 957.2 L375.7 957.1 L375.6 956.8 L375.6 956.7 L375.6 956.3 L375.6 956.3 L375.6 955.9 L375.6 955.9 L375.6 955.5 L375.6 955.5 L375.6 955.1 L375.6 955.1 L375.7 954.8 L375.7 954.7 L375.7 954.4 L375.7 954.3 L375.8 954 L375.8 953.9 L375.9 953.6 L375.9 953.6 L376 953.2 L376 953.2 L376.1 952.9 L376.1 952.8 L376.3 952.5 L376.3 952.5 L376.4 952.2 L376.4 952.1 L376.6 951.8 L376.6 951.8 L376.8 951.5 L376.8 951.4 L377 951.2 L377 951.1 L377.2 950.8 L377.2 950.8 L377.4 950.5 L377.5 950.5 L377.7 950.2 L377.7 950.2 L377.8 950.1 L377.4 949.8 L376.8 949.4 L376.2 949 L375.6 948.6 L375 948.2 L374.4 947.8 L373.7 947.5 L373.1 947.1 L372.4 946.8 L371.8 946.4 L371.1 946.1 L370.8 946 L370.6 946.2 L370.6 946.3 L370.4 946.6 L370.4 946.6 L370.2 946.9 L370.1 946.9 L369.9 947.2 L369.9 947.2 L369.6 947.5 L369.6 947.5 L369.4 947.8 L369.3 947.8 L369.1 948 L369 948.1 L368.7 948.3 L368.7 948.3 L368.4 948.5 L368.4 948.6 L368.1 948.8 L368 948.8 L367.7 949 L367.7 949 L367.4 949.2 L367.3 949.3 L367 949.4 L366.9 949.5 L366.6 949.6 L366.6 949.7 L366.2 949.8 L366.2 949.8 L365.8 950 L365.7 950 L365.4 950.1 L365.3 950.2 L364.9 950.3 L364.9 950.3 L364.5 950.4 L364.4 950.4 L364 950.5 L364 950.6 L363.6 950.6 L363.5 950.7 L363.1 950.7 L363.1 950.7 L362.6 950.8 L362.6 950.8 L362.2 950.9 L362.1 950.9 L361.7 950.9 L361.6 950.9 L361.2 951 L361.1 951 L360.7 951 L360.6 951 L360.2 951 L360.1 951 L359.7 951 L359.6 951 L359.1 951 L359.1 951 L358.6 951 L358.6 951 L358.1 950.9 L358 950.9 L357.6 950.9 L357.5 950.9 L357.1 950.8 L357 950.8 L356.5 950.7 L356.5 950.7 L356 950.6 L355.9 950.6 L355.5 950.5 L355.4 950.5 L354.9 950.4 L354.9 950.4 L354.4 950.3 L354.4 950.3 L353.9 950.1 L353.8 950.1 L353.4 950 L353.3 950 L352.8 949.8 L352.8 949.8 L352.3 949.6 L352.3 949.6 L351.8 949.4 L351.8 949.4 L351.3 949.2 L351.3 949.2 L350.8 949 L350.7 949 L350.3 948.8 L350.3 948.7 L349.8 948.5 L349.8 948.5 L349.3 948.3 L349.3 948.2 L348.8 948 L348.8 948 L348.4 947.7 L348.3 947.7 L347.9 947.5 L347.9 947.4 L347.5 947.2 L347.4 947.1 L347 946.9 L347 946.8 L346.6 946.5 L346.5 946.5 L346.1 946.2 L346.1 946.2 L345.7 945.9 L345.7 945.9 L345.3 945.6 L345.3 945.5 L344.9 945.2 L344.9 945.2 L344.5 944.9 L344.5 944.8 L344.2 944.5 L344.1 944.5 L343.8 944.1 L343.8 944.1 L343.8 944.1 L343.5 944.2 L342.9 944.4 L342.4 944.7 L341.9 944.9 L341.3 945.2 L340.8 945.5 L340.3 945.7 L339.9 946.1 L339.4 946.4 L338.9 946.7 L338.5 947 L338.2 947.3Z" fill="none" stroke="#666" stroke-width="1"/>
<ellipse cx="363.2" cy="965.4" rx="20" ry="13" transform="rotate(22.9 363.2 965.4)" fill="#fff" stroke="#222" stroke-width="1.4"/>
<ellipse cx="364.4" cy="962.4" rx="20" ry="13" transform="rotate(22.9 364.4 962.4)" fill="none" stroke="#333" stroke-width="1.2"/>
<polygon points="384.7,965.8 381.6,973.2 344.8,957.6 347.9,950.2" fill="#fff" stroke="none"/>
<path d="M384.7 965.8 L381.6 973.2 M344.8 957.6 L347.9 950.2" stroke="#222" stroke-width="1.4"/>
<ellipse cx="366.3" cy="958" rx="20" ry="13" transform="rotate(22.9 366.3 958)" fill="#fff" stroke="#222" stroke-width="1.6"/>
<path d="M410 856 L395 853.4 Q389 855 389 862 L396 884 Q402 893 410 894.7 Z" fill="#fff" stroke="#222" stroke-width="1.6"/>
<ellipse cx="403.2" cy="869" rx="2.4" ry="3.3" fill="#fff" stroke="#111" stroke-width="2.2"/>
<path d="M406 839 Q402 845 405 852" stroke="#222" stroke-width="1.6" fill="none"/>
<circle cx="407" cy="838" r="2.5" fill="none" stroke="#222" stroke-width="1.3"/>
<path d="M473.9 910.5 L445 950 Q443 962 450 965 L467 970 Q474 971 476 966 L476 916 Z" fill="#fff" stroke="#222" stroke-width="1.6"/>
<path d="M472 914 L447.5 950 Q446.5 959 452 962" fill="none" stroke="#333" stroke-width="1.2"/>
<ellipse cx="465.2" cy="950.7" rx="3.4" ry="4.8" fill="#fff" stroke="#222" stroke-width="1.4"/>
<path d="M473.9 910.5 L501 916 L502 918 L476 913" fill="#fff" stroke="#222" stroke-width="1.3"/>
<path d="M476 913 L476 950" stroke="#222" stroke-width="1.3"/>
<path d="M501.9 916 L472.5 957.5 Q471 969 477 971 L497 974 Q503 973 503 966 L503 917 Z" fill="#fff" stroke="#222" stroke-width="1.6"/>
<path d="M499 920 L475 956 Q474 964 478 967" fill="none" stroke="#333" stroke-width="1.2"/>
<ellipse cx="489.6" cy="956.8" rx="3.4" ry="4.8" fill="#fff" stroke="#222" stroke-width="1.4"/>
<path d="M493 957.5 L512 961.5 M553 970 L565 972.5 M442.5 945.4 L448 947" stroke="#222" stroke-width="1.3"/>
<g transform="translate(515.8 960.3) rotate(14.3)">
<path d="M0 -4.5 L35 -4.5 A2 4.5 0 0 1 35 4.5 L0 4.5 A2 4.5 0 0 1 0 -4.5 Z" fill="#fff" stroke="#222" stroke-width="1.4" stroke-linejoin="round"/>
<ellipse cx="1.5" cy="0" rx="2" ry="4.5" fill="#222"/>
<ellipse cx="35" cy="0" rx="2.2" ry="4.5" fill="#fff" stroke="#222" stroke-width="1.4"/>
<path d="M31 -4.3 V4.3" stroke="#222" stroke-width="1.2"/>
</g>
<path d="M433.5 939.5 Q440.5 937 441.2 942.8 Q441 948.5 435 948.3 L432.5 950.8 M436.5 941 L435 945" fill="none" stroke="#222" stroke-width="2"/>
<path d="M564 967.8 Q570 966.5 570.2 972 Q570 977.5 564.5 977.3 L562 979.6 M565.5 969.5 L564.5 973" fill="none" stroke="#222" stroke-width="2"/>
<rect x="208.2" y="949" width="14.1" height="32" fill="#fff" stroke="#222" stroke-width="1.4"/>
<rect x="209.3" y="980" width="11.9" height="40.3" fill="#2e2e2e" stroke="#222" stroke-width="1.3"/>
<path d="M209.3 981.6 Q215.2 983.1 221.2 981.6 M209.3 984.8 Q215.2 986.3 221.2 984.8 M209.3 988 Q215.2 989.5 221.2 988 M209.3 991.2 Q215.2 992.7 221.2 991.2 M209.3 994.4 Q215.2 995.9 221.2 994.4 M209.3 997.6 Q215.2 999.1 221.2 997.6 M209.3 1000.8 Q215.2 1002.3 221.2 1000.8 M209.3 1004 Q215.2 1005.5 221.2 1004 M209.3 1007.2 Q215.2 1008.7 221.2 1007.2 M209.3 1010.4 Q215.2 1011.9 221.2 1010.4 M209.3 1013.6 Q215.2 1015.1 221.2 1013.6 M209.3 1016.8 Q215.2 1018.3 221.2 1016.8 M209.3 1020 Q215.2 1021.5 221.2 1020 " stroke="#aaa" stroke-width="1.3" fill="none"/>
<path d="M205 938 Q210 930 219 932 L225 937 Q229 944 224 950 Q218 954 210 950 L205 946 Q202 942 205 938 Z" fill="#fff" stroke="#222" stroke-width="1.6"/>
<ellipse cx="220.5" cy="943.5" rx="4.3" ry="6" fill="#fff" stroke="#222" stroke-width="1.4"/>
<ellipse cx="221" cy="943.5" rx="1.6" ry="2.5" fill="#fff" stroke="#222" stroke-width="1.2"/>
<path d="M200.7 1034.4 L200.7 1037.5 A14 6.5 0 0 0 228.7 1037.5 L228.7 1034.4 Z" fill="#fff" stroke="#222" stroke-width="1.4"/>
<ellipse cx="214.7" cy="1034.4" rx="14" ry="6.5" fill="#fff" stroke="#222" stroke-width="1.4"/>
<ellipse cx="214.7" cy="1034.6" rx="5" ry="2.4" fill="#fff" stroke="#222" stroke-width="1.3"/>
<path d="M214.7 1021 V1032 M214.7 1042 V1062" stroke="#222" stroke-width="1.6"/>
<g class="l">
<path d="M615 75 L644.5 57.5"/>
<path d="M187 170 L214 150"/>
<path d="M315.6 244.5 L342.7 225.3"/>
<path d="M81.4 261 L100.7 247.9"/>
<path d="M114.5 324 L114.5 354"/>
<path d="M200 341.8 L215.8 320.8"/>
<path d="M206 404.8 L231.3 392.8"/>
<path d="M341.6 398 L341.6 423"/>
<path d="M229 485.6 L279.3 462.7"/>
<path d="M229.2 565.3 L276 544.8"/>
<path d="M262.8 721.2 L300.4 721.2"/>
<path d="M471 368 L471 398"/>
<path d="M549.7 389.7 L573.7 399.3"/>
<path d="M480.4 458.5 L518.6 458.5"/>
<path d="M689 388.4 L708.8 383"/>
<path d="M797.6 238.3 L820.5 225.2"/>
<path d="M666.4 568.2 L785.7 568.2"/>
<path d="M627 652 L660 682"/>
<path d="M639.9 776 L694.9 763"/>
<path d="M665.9 865.7 L720.9 853.5"/>
<path d="M791.2 917.7 L826.3 926.9"/>
<path d="M437.4 921 L437.4 937"/>
<path d="M531.5 941.5 L531.5 959.5"/>
<path d="M569.6 946.3 L569.6 967"/>
<path d="M184.4 993.9 L209.3 1007.3"/>
<path d="M184.4 1023.5 L202.8 1033.3"/>
<path d="M172 1060.4 L185.5 1068"/>
<path d="M292.4 570 L292.4 642 L484.5 563.3 L484.5 587"/>
<path d="M681.5 419 L681.5 509.4 L608.3 525 L608.3 541"/>
<path d="M763 431 L763 533.5 L579.9 574.7 L579.9 590"/>
<path d="M795.4 180.4 L795.4 383 M795.4 180.4 L772.4 193.5 M795.4 223 L767 237 M795.4 268.8 L762.6 286.3 M795.4 311 L762.3 329.5 M795.4 343.7 L771 356.8 M795.4 383 L770 397"/>
<path d="M536.5 686.5 L536.5 858"/>
<path d="M536.5 517 L536.5 549"/>
</g>
<g class="d">
<path d="M315.8 695.7 L315.8 671 L379 659 L380 738.3 L485.5 717 L485.5 689"/>
<path d="M537.7 709 L791.2 740.6 L791.2 819"/>
<path d="M214.7 931.5 L214.7 911 L294.9 874.7 L294.9 1073.4 L465 958"/>
</g>
<g>
<text transform="translate(647 61.3) scale(0.93 1)">4</text>
<text transform="translate(216 151.1) scale(0.93 1)">25</text>
<text transform="translate(343.8 226.3) scale(0.93 1)">25</text>
<text transform="translate(71 266.5) scale(0.93 1)">7</text>
<text transform="translate(105 369) scale(0.93 1)">48</text>
<text transform="translate(189 356.8) scale(0.93 1)">47</text>
<text transform="translate(182.2 412.8) scale(0.93 1)">10</text>
<text transform="translate(337.3 439) scale(0.93 1)">7</text>
<text transform="translate(206.3 491.3) scale(0.93 1)">46</text>
<text transform="translate(205.5 571.8) scale(0.93 1)">45</text>
<text transform="translate(242.7 727.7) scale(0.93 1)">39</text>
<text transform="translate(463.6 364.8) scale(0.93 1)">49</text>
<text transform="translate(577.3 405.8) scale(0.93 1)">50</text>
<text transform="translate(458.9 463.7) scale(0.93 1)">24</text>
<text transform="translate(709.6 386.6) scale(0.93 1)">6</text>
<text transform="translate(821.9 227.7) scale(0.93 1)">22</text>
<text transform="translate(788.8 575.3) scale(0.93 1)">2</text>
<text transform="translate(659.3 693.7) scale(0.93 1)">3</text>
<text transform="translate(697.2 767.3) scale(0.93 1)">51</text>
<text transform="translate(720.5 857.3) scale(0.93 1)">1</text>
<text transform="translate(828.2 933.8) scale(0.93 1)">34</text>
<text transform="translate(427 917.6) scale(0.93 1)">32</text>
<text transform="translate(521.8 940.5) scale(0.93 1)">33</text>
<text transform="translate(560.3 944) scale(0.93 1)">32</text>
<text transform="translate(163 997.9) scale(0.93 1)">29</text>
<text transform="translate(164.1 1027.2) scale(0.93 1)">30</text>
<text transform="translate(152.2 1065.1) scale(0.93 1)">31</text>
</g>
<circle cx="92.35" cy="248.15" r="48.9" fill="none" stroke="#6cbd4f" stroke-width="11.1"/>
</g></svg>
<svg id="b" width="916" height="1201" viewBox="0 0 916 1201"><use href="#D"/></svg></div>
</body></html>
